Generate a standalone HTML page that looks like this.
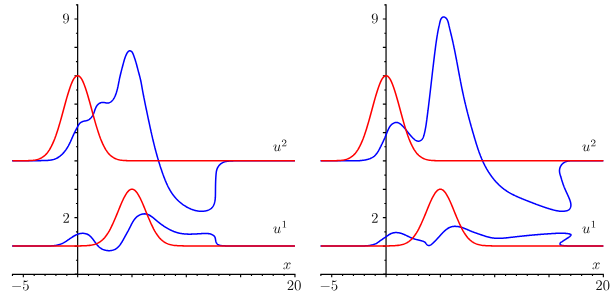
<!DOCTYPE html>
<html><head><meta charset="utf-8"><title>plot</title>
<style>
html,body{margin:0;padding:0;background:#fff;font-family:"Liberation Sans",sans-serif;overflow:hidden}
svg{display:block}
.ax{stroke:#000;stroke-width:1.22;fill:none}
.tk{stroke:#000;stroke-width:1.15;fill:none}
.b{stroke:#0000ff;stroke-width:1.52;fill:none;stroke-linejoin:round}
.r{stroke:#ff0000;stroke-width:1.52;fill:none;stroke-linejoin:round}
.g{fill:#111;stroke:none}
</style></head><body>
<svg width="615" height="295" viewBox="0 0 615 295">
<rect width="615" height="295" fill="#fff"/>
<defs>
<path id="r10_nine" d="M367 -318V-286C367 -52 263 -6 205 -6C188 -6 134 -8 107 -42C151 -42 159 -71 159 -88C159 -119 135 -134 113 -134C97 -134 67 -125 67 -86C67 -19 121 22 206 22C335 22 457 -114 457 -329C457 -598 342 -666 253 -666C198 -666 149 -648 106 -603C65 -558 42 -516 42 -441C42 -316 130 -218 242 -218C303 -218 344 -260 367 -318ZM243 -241C227 -241 181 -241 150 -304C132 -341 132 -391 132 -440C132 -494 132 -541 153 -578C180 -628 218 -641 253 -641C299 -641 332 -607 349 -562C361 -530 365 -467 365 -421C365 -338 331 -241 243 -241Z"/>
<path id="r10_two" d="M127 -77 233 -180C389 -318 449 -372 449 -472C449 -586 359 -666 237 -666C124 -666 50 -574 50 -485C50 -429 100 -429 103 -429C120 -429 155 -441 155 -482C155 -508 137 -534 102 -534C94 -534 92 -534 89 -533C112 -598 166 -635 224 -635C315 -635 358 -554 358 -472C358 -392 308 -313 253 -251L61 -37C50 -26 50 -24 50 0H421L449 -174H424C419 -144 412 -100 402 -85C395 -77 329 -77 307 -77Z"/>
<path id="r10_five" d="M449 -201C449 -320 367 -420 259 -420C211 -420 168 -404 132 -369V-564C152 -558 185 -551 217 -551C340 -551 410 -642 410 -655C410 -661 407 -666 400 -666C399 -666 397 -666 392 -663C372 -654 323 -634 256 -634C216 -634 170 -641 123 -662C115 -665 113 -665 111 -665C101 -665 101 -657 101 -641V-345C101 -327 101 -319 115 -319C122 -319 124 -322 128 -328C139 -344 176 -398 257 -398C309 -398 334 -352 342 -334C358 -297 360 -258 360 -208C360 -173 360 -113 336 -71C312 -32 275 -6 229 -6C156 -6 99 -59 82 -118C85 -117 88 -116 99 -116C132 -116 149 -141 149 -165C149 -189 132 -214 99 -214C85 -214 50 -207 50 -161C50 -75 119 22 231 22C347 22 449 -74 449 -201Z"/>
<path id="r10_zero" d="M460 -320C460 -400 455 -480 420 -554C374 -650 292 -666 250 -666C190 -666 117 -640 76 -547C44 -478 39 -400 39 -320C39 -245 43 -155 84 -79C127 2 200 22 249 22C303 22 379 1 423 -94C455 -163 460 -241 460 -320ZM249 0C210 0 151 -25 133 -121C122 -181 122 -273 122 -332C122 -396 122 -462 130 -516C149 -635 224 -644 249 -644C282 -644 348 -626 367 -527C377 -471 377 -395 377 -332C377 -257 377 -189 366 -125C351 -30 294 0 249 0Z"/>
<path id="r7_one" d="M335 -636C335 -663 333 -664 305 -664C241 -601 150 -600 109 -600V-564C133 -564 199 -564 254 -592V-82C254 -49 254 -36 154 -36H116V0C134 -1 257 -4 294 -4C325 -4 451 -1 473 0V-36H435C335 -36 335 -49 335 -82Z"/>
<path id="r7_two" d="M505 -182H471C468 -160 458 -101 445 -91C437 -85 360 -85 346 -85H162C267 -178 302 -206 362 -253C436 -312 505 -374 505 -469C505 -590 399 -664 271 -664C147 -664 63 -577 63 -485C63 -434 106 -429 116 -429C140 -429 169 -446 169 -482C169 -500 162 -535 110 -535C141 -606 209 -628 256 -628C356 -628 408 -550 408 -469C408 -382 346 -313 314 -277L73 -39C63 -30 63 -28 63 0H475Z"/>
<path id="mi10_u" d="M350 -56C361 -15 396 11 439 11C474 11 497 -12 513 -44C530 -80 543 -141 543 -143C543 -153 534 -153 531 -153C521 -153 520 -149 517 -135C503 -79 484 -11 442 -11C421 -11 411 -24 411 -57C411 -79 423 -126 431 -161L459 -269C462 -284 472 -322 476 -337C481 -360 491 -398 491 -404C491 -422 477 -431 462 -431C457 -431 431 -430 423 -396C404 -323 360 -148 348 -95C347 -91 307 -11 234 -11C182 -11 172 -56 172 -93C172 -149 200 -228 226 -297C238 -327 243 -341 243 -360C243 -405 211 -442 161 -442C66 -442 29 -297 29 -288C29 -278 39 -278 41 -278C51 -278 52 -280 57 -296C82 -383 120 -420 158 -420C167 -420 183 -419 183 -387C183 -363 172 -334 166 -319C129 -220 108 -158 108 -109C108 -14 177 11 231 11C297 11 333 -34 350 -56Z"/>
<path id="mi10_x" d="M334 -302C340 -328 363 -420 433 -420C438 -420 462 -420 483 -407C455 -402 435 -377 435 -353C435 -337 446 -318 473 -318C495 -318 527 -336 527 -376C527 -428 468 -442 434 -442C376 -442 341 -389 329 -366C304 -432 250 -442 221 -442C117 -442 60 -313 60 -288C60 -278 70 -278 72 -278C80 -278 83 -280 85 -289C119 -395 185 -420 219 -420C238 -420 273 -411 273 -353C273 -322 256 -255 219 -115C203 -53 168 -11 124 -11C118 -11 95 -11 74 -24C99 -29 121 -50 121 -78C121 -105 99 -113 84 -113C54 -113 29 -87 29 -55C29 -9 79 11 123 11C189 11 225 -59 228 -65C240 -28 276 11 336 11C439 11 496 -118 496 -143C496 -153 487 -153 484 -153C475 -153 473 -149 471 -142C438 -35 370 -11 338 -11C299 -11 283 -43 283 -77C283 -99 289 -121 300 -165Z"/>
<path id="sy10_minus" d="M659 -230C676 -230 694 -230 694 -250C694 -270 676 -270 659 -270H118C101 -270 83 -270 83 -250C83 -230 101 -230 118 -230Z"/>
</defs>
<path d="M77.65 4.34 V274.45" class="ax"/>
<path d="M11.96 274.45 H295.45" class="ax" style="stroke-width:1.2"/>
<path d="M77.65 273.80 h-2.9" class="tk" style="stroke-width:0.6"/>
<path d="M12.46 274.45 v1.55 M23.33 274.45 v2.90 M34.19 274.45 v1.55 M45.06 274.45 v1.55 M55.92 274.45 v1.55 M66.79 274.45 v1.55 M77.65 274.45 v2.90 M88.52 274.45 v1.55 M99.38 274.45 v1.55 M110.25 274.45 v1.55 M121.11 274.45 v1.55 M131.98 274.45 v2.90 M142.84 274.45 v1.55 M153.71 274.45 v1.55 M164.57 274.45 v1.55 M175.44 274.45 v1.55 M186.30 274.45 v2.90 M197.17 274.45 v1.55 M208.03 274.45 v1.55 M218.90 274.45 v1.55 M229.76 274.45 v1.55 M240.62 274.45 v2.90 M251.49 274.45 v1.55 M262.36 274.45 v1.55 M273.22 274.45 v1.55 M284.09 274.45 v1.55 M294.95 274.45 v2.90 M77.65 260.26 h-1.70 M77.65 246.07 h-3.20 M77.65 231.88 h-1.70 M77.65 217.69 h-3.20 M77.65 203.50 h-1.70 M77.65 189.31 h-3.20 M77.65 175.12 h-1.70 M77.65 160.93 h-3.20 M77.65 146.74 h-1.70 M77.65 132.55 h-3.20 M77.65 118.36 h-1.70 M77.65 104.17 h-3.20 M77.65 89.98 h-1.70 M77.65 75.79 h-3.20 M77.65 61.60 h-1.70 M77.65 47.41 h-3.20 M77.65 33.22 h-1.70 M77.65 19.03 h-3.20 M77.65 4.84 h-1.70" class="tk"/>
<path d="M386.05 4.34 V274.45" class="ax"/>
<path d="M320.36 274.45 H603.85" class="ax" style="stroke-width:1.2"/>
<path d="M386.05 273.80 h-2.9" class="tk" style="stroke-width:0.6"/>
<path d="M320.86 274.45 v1.55 M331.72 274.45 v2.90 M342.59 274.45 v1.55 M353.45 274.45 v1.55 M364.32 274.45 v1.55 M375.19 274.45 v1.55 M386.05 274.45 v2.90 M396.91 274.45 v1.55 M407.78 274.45 v1.55 M418.64 274.45 v1.55 M429.51 274.45 v1.55 M440.38 274.45 v2.90 M451.24 274.45 v1.55 M462.11 274.45 v1.55 M472.97 274.45 v1.55 M483.83 274.45 v1.55 M494.70 274.45 v2.90 M505.56 274.45 v1.55 M516.43 274.45 v1.55 M527.29 274.45 v1.55 M538.16 274.45 v1.55 M549.02 274.45 v2.90 M559.89 274.45 v1.55 M570.75 274.45 v1.55 M581.62 274.45 v1.55 M592.49 274.45 v1.55 M603.35 274.45 v2.90 M386.05 260.26 h-1.70 M386.05 246.07 h-3.20 M386.05 231.88 h-1.70 M386.05 217.69 h-3.20 M386.05 203.50 h-1.70 M386.05 189.31 h-3.20 M386.05 175.12 h-1.70 M386.05 160.93 h-3.20 M386.05 146.74 h-1.70 M386.05 132.55 h-3.20 M386.05 118.36 h-1.70 M386.05 104.17 h-3.20 M386.05 89.98 h-1.70 M386.05 75.79 h-3.20 M386.05 61.60 h-1.70 M386.05 47.41 h-3.20 M386.05 33.22 h-1.70 M386.05 19.03 h-3.20 M386.05 4.84 h-1.70" class="tk"/>
<path class="b" d="M12.06 160.80 L25.00 160.80 L25.50 160.80 L26.00 160.80 L26.50 160.80 L27.00 160.80 L27.50 160.80 L28.00 160.80 L28.50 160.80 L29.00 160.80 L29.50 160.80 L30.00 160.80 L30.50 160.80 L31.00 160.80 L31.50 160.80 L32.00 160.80 L32.50 160.80 L33.00 160.80 L33.50 160.80 L34.00 160.80 L34.50 160.80 L35.00 160.79 L35.49 160.78 L35.99 160.77 L36.48 160.76 L36.98 160.75 L37.47 160.73 L37.97 160.72 L38.47 160.70 L38.96 160.68 L39.46 160.67 L39.96 160.65 L40.46 160.64 L40.96 160.62 L41.46 160.61 L41.96 160.59 L42.47 160.58 L42.97 160.57 L43.48 160.56 L43.99 160.55 L44.51 160.54 L45.02 160.52 L45.53 160.51 L46.04 160.49 L46.56 160.47 L47.07 160.45 L47.58 160.42 L48.09 160.38 L48.60 160.34 L49.11 160.30 L49.61 160.25 L50.12 160.19 L50.62 160.12 L51.11 160.04 L51.61 159.95 L52.10 159.85 L52.58 159.75 L53.06 159.63 L53.54 159.50 L54.01 159.35 L54.48 159.19 L54.94 159.02 L55.40 158.84 L55.85 158.64 L56.30 158.44 L56.74 158.22 L57.17 157.99 L57.60 157.75 L58.02 157.49 L58.44 157.23 L58.86 156.96 L59.26 156.67 L59.66 156.38 L60.06 156.08 L60.45 155.77 L60.84 155.45 L61.21 155.12 L61.59 154.79 L61.95 154.44 L62.31 154.09 L62.67 153.74 L63.02 153.37 L63.36 153.00 L63.70 152.62 L64.03 152.24 L64.36 151.85 L64.68 151.46 L64.99 151.06 L65.29 150.66 L65.60 150.25 L65.89 149.84 L66.18 149.43 L66.46 149.01 L66.73 148.59 L67.00 148.17 L67.27 147.74 L67.53 147.31 L67.78 146.88 L68.03 146.44 L68.28 146.01 L68.52 145.57 L68.75 145.13 L68.98 144.68 L69.21 144.24 L69.44 143.79 L69.66 143.34 L69.88 142.89 L70.09 142.44 L70.31 141.99 L70.52 141.53 L70.73 141.08 L70.94 140.62 L71.14 140.17 L71.35 139.71 L71.55 139.25 L71.75 138.79 L71.95 138.34 L72.16 137.88 L72.36 137.42 L72.56 136.96 L72.76 136.50 L72.96 136.05 L73.17 135.59 L73.37 135.13 L73.58 134.68 L73.78 134.23 L73.99 133.77 L74.20 133.32 L74.42 132.87 L74.63 132.42 L74.85 131.98 L75.07 131.53 L75.29 131.09 L75.52 130.65 L75.75 130.20 L75.98 129.76 L76.21 129.32 L76.45 128.88 L76.68 128.44 L76.92 128.00 L77.16 127.56 L77.40 127.11 L77.63 126.66 L77.87 126.21 L78.11 125.76 L78.36 125.32 L78.62 124.88 L78.89 124.46 L79.18 124.05 L79.49 123.66 L79.82 123.30 L80.18 122.96 L80.57 122.66 L80.97 122.37 L81.40 122.12 L81.85 121.89 L82.31 121.69 L82.78 121.51 L83.27 121.36 L83.76 121.22 L84.26 121.11 L84.76 121.01 L85.27 120.91 L85.77 120.81 L86.26 120.70 L86.74 120.57 L87.22 120.42 L87.68 120.25 L88.12 120.04 L88.56 119.81 L88.98 119.56 L89.38 119.28 L89.78 118.98 L90.16 118.66 L90.52 118.33 L90.87 117.97 L91.21 117.60 L91.53 117.21 L91.83 116.80 L92.13 116.39 L92.41 115.96 L92.67 115.52 L92.92 115.07 L93.15 114.61 L93.37 114.15 L93.57 113.68 L93.77 113.21 L93.95 112.73 L94.13 112.25 L94.30 111.77 L94.46 111.28 L94.62 110.80 L94.79 110.32 L94.95 109.85 L95.12 109.37 L95.29 108.90 L95.47 108.44 L95.66 107.98 L95.86 107.54 L96.08 107.10 L96.31 106.67 L96.55 106.25 L96.81 105.85 L97.10 105.46 L97.40 105.08 L97.73 104.72 L98.09 104.37 L98.47 104.04 L98.88 103.74 L99.31 103.45 L99.76 103.20 L100.22 102.97 L100.69 102.78 L101.17 102.62 L101.66 102.51 L102.15 102.43 L102.64 102.40 L103.14 102.41 L103.63 102.46 L104.12 102.53 L104.62 102.62 L105.11 102.72 L105.61 102.82 L106.11 102.91 L106.62 102.98 L107.13 103.03 L107.63 103.03 L108.13 103.00 L108.62 102.92 L109.09 102.79 L109.55 102.62 L109.99 102.41 L110.42 102.16 L110.83 101.89 L111.23 101.58 L111.61 101.25 L111.97 100.90 L112.32 100.53 L112.65 100.15 L112.96 99.76 L113.26 99.36 L113.54 98.95 L113.81 98.52 L114.07 98.09 L114.32 97.65 L114.55 97.21 L114.77 96.75 L114.99 96.30 L115.19 95.84 L115.38 95.37 L115.57 94.90 L115.75 94.43 L115.92 93.96 L116.09 93.49 L116.25 93.02 L116.40 92.54 L116.55 92.07 L116.70 91.59 L116.83 91.11 L116.97 90.63 L117.10 90.15 L117.22 89.67 L117.34 89.19 L117.46 88.71 L117.57 88.22 L117.68 87.74 L117.79 87.25 L117.90 86.77 L118.00 86.28 L118.10 85.79 L118.20 85.31 L118.30 84.82 L118.40 84.33 L118.49 83.84 L118.59 83.35 L118.68 82.86 L118.78 82.37 L118.87 81.88 L118.97 81.39 L119.07 80.90 L119.16 80.40 L119.26 79.91 L119.37 79.42 L119.47 78.93 L119.57 78.44 L119.68 77.95 L119.79 77.46 L119.90 76.96 L120.01 76.47 L120.12 75.98 L120.24 75.49 L120.35 75.00 L120.47 74.51 L120.59 74.02 L120.71 73.53 L120.83 73.04 L120.95 72.55 L121.07 72.06 L121.19 71.58 L121.32 71.09 L121.44 70.60 L121.57 70.11 L121.69 69.63 L121.82 69.14 L121.95 68.66 L122.08 68.17 L122.20 67.69 L122.33 67.21 L122.46 66.72 L122.59 66.24 L122.72 65.76 L122.85 65.28 L122.98 64.80 L123.11 64.32 L123.24 63.85 L123.37 63.37 L123.49 62.90 L123.62 62.42 L123.75 61.95 L123.88 61.48 L124.01 61.01 L124.14 60.53 L124.28 60.06 L124.42 59.59 L124.56 59.12 L124.71 58.65 L124.86 58.18 L125.02 57.71 L125.19 57.24 L125.37 56.77 L125.56 56.29 L125.75 55.82 L125.96 55.34 L126.18 54.86 L126.41 54.39 L126.65 53.90 L126.91 53.42 L127.18 52.95 L127.47 52.50 L127.77 52.09 L128.10 51.71 L128.44 51.38 L128.80 51.12 L129.18 50.92 L129.58 50.81 L130.00 50.80 L130.44 50.88 L130.88 51.04 L131.30 51.29 L131.68 51.60 L132.01 51.97 L132.31 52.39 L132.57 52.85 L132.81 53.34 L133.02 53.84 L133.22 54.34 L133.41 54.84 L133.60 55.34 L133.78 55.82 L133.95 56.30 L134.12 56.77 L134.29 57.23 L134.46 57.70 L134.62 58.16 L134.77 58.62 L134.93 59.08 L135.08 59.55 L135.23 60.02 L135.38 60.49 L135.52 60.96 L135.67 61.43 L135.81 61.90 L135.95 62.38 L136.08 62.86 L136.22 63.34 L136.35 63.82 L136.49 64.30 L136.62 64.78 L136.75 65.27 L136.88 65.75 L137.01 66.24 L137.14 66.72 L137.27 67.21 L137.40 67.69 L137.52 68.18 L137.65 68.67 L137.78 69.15 L137.91 69.64 L138.04 70.13 L138.16 70.61 L138.29 71.10 L138.42 71.58 L138.55 72.07 L138.68 72.55 L138.82 73.03 L138.95 73.51 L139.08 74.00 L139.21 74.48 L139.34 74.96 L139.47 75.44 L139.60 75.92 L139.73 76.41 L139.85 76.89 L139.97 77.37 L140.10 77.85 L140.21 78.34 L140.33 78.82 L140.44 79.31 L140.55 79.79 L140.66 80.28 L140.77 80.77 L140.87 81.26 L140.97 81.75 L141.06 82.23 L141.16 82.72 L141.25 83.22 L141.34 83.71 L141.43 84.20 L141.52 84.69 L141.61 85.18 L141.70 85.67 L141.78 86.17 L141.87 86.66 L141.96 87.15 L142.04 87.64 L142.13 88.14 L142.22 88.63 L142.31 89.12 L142.40 89.61 L142.49 90.11 L142.58 90.60 L142.67 91.09 L142.76 91.58 L142.86 92.07 L142.95 92.56 L143.04 93.06 L143.13 93.55 L143.23 94.04 L143.32 94.53 L143.42 95.02 L143.51 95.51 L143.61 96.00 L143.70 96.49 L143.80 96.98 L143.89 97.48 L143.99 97.97 L144.09 98.46 L144.18 98.95 L144.28 99.44 L144.38 99.93 L144.48 100.42 L144.58 100.91 L144.68 101.40 L144.77 101.89 L144.87 102.38 L144.97 102.87 L145.07 103.36 L145.17 103.85 L145.27 104.34 L145.37 104.83 L145.47 105.32 L145.58 105.81 L145.68 106.30 L145.78 106.79 L145.88 107.28 L145.98 107.77 L146.08 108.26 L146.18 108.75 L146.29 109.24 L146.39 109.73 L146.49 110.22 L146.59 110.71 L146.70 111.20 L146.80 111.69 L146.90 112.18 L147.00 112.67 L147.11 113.16 L147.21 113.65 L147.31 114.13 L147.41 114.62 L147.52 115.11 L147.62 115.60 L147.72 116.09 L147.83 116.58 L147.93 117.07 L148.03 117.56 L148.14 118.05 L148.24 118.54 L148.34 119.03 L148.45 119.52 L148.55 120.01 L148.65 120.50 L148.76 120.99 L148.86 121.47 L148.97 121.96 L149.07 122.45 L149.17 122.94 L149.28 123.43 L149.38 123.92 L149.49 124.41 L149.59 124.90 L149.70 125.39 L149.81 125.87 L149.91 126.36 L150.02 126.85 L150.12 127.34 L150.23 127.83 L150.34 128.32 L150.44 128.80 L150.55 129.29 L150.66 129.78 L150.77 130.27 L150.88 130.76 L150.98 131.25 L151.09 131.73 L151.20 132.22 L151.31 132.71 L151.42 133.20 L151.53 133.68 L151.64 134.17 L151.75 134.66 L151.87 135.14 L151.98 135.63 L152.09 136.12 L152.20 136.61 L152.31 137.09 L152.43 137.58 L152.54 138.07 L152.66 138.55 L152.77 139.04 L152.89 139.52 L153.00 140.01 L153.12 140.50 L153.23 140.98 L153.35 141.47 L153.47 141.95 L153.59 142.44 L153.70 142.92 L153.82 143.41 L153.94 143.89 L154.06 144.38 L154.18 144.86 L154.30 145.35 L154.43 145.83 L154.55 146.32 L154.67 146.80 L154.79 147.29 L154.92 147.77 L155.04 148.25 L155.17 148.74 L155.29 149.22 L155.42 149.70 L155.55 150.19 L155.67 150.67 L155.80 151.15 L155.93 151.64 L156.06 152.12 L156.19 152.60 L156.32 153.08 L156.45 153.56 L156.59 154.05 L156.72 154.53 L156.85 155.01 L156.99 155.49 L157.12 155.97 L157.26 156.45 L157.39 156.93 L157.53 157.41 L157.67 157.89 L157.81 158.37 L157.95 158.85 L158.09 159.33 L158.23 159.81 L158.37 160.29 L158.52 160.77 L158.66 161.25 L158.80 161.73 L158.95 162.21 L159.10 162.68 L159.24 163.16 L159.39 163.64 L159.54 164.12 L159.69 164.60 L159.84 165.07 L159.99 165.55 L160.14 166.03 L160.30 166.50 L160.45 166.98 L160.61 167.45 L160.76 167.93 L160.92 168.41 L161.08 168.88 L161.24 169.36 L161.40 169.83 L161.56 170.30 L161.72 170.78 L161.88 171.25 L162.05 171.73 L162.21 172.20 L162.38 172.67 L162.55 173.15 L162.71 173.62 L162.88 174.09 L163.05 174.56 L163.22 175.04 L163.40 175.51 L163.57 175.98 L163.74 176.45 L163.92 176.92 L164.10 177.39 L164.28 177.86 L164.46 178.33 L164.64 178.80 L164.82 179.26 L165.01 179.73 L165.19 180.20 L165.38 180.66 L165.57 181.12 L165.77 181.59 L165.96 182.05 L166.16 182.51 L166.36 182.97 L166.56 183.43 L166.77 183.88 L166.98 184.34 L167.19 184.79 L167.40 185.25 L167.62 185.70 L167.83 186.14 L168.06 186.59 L168.28 187.04 L168.51 187.48 L168.74 187.92 L168.98 188.36 L169.21 188.80 L169.45 189.24 L169.70 189.67 L169.95 190.10 L170.20 190.53 L170.46 190.96 L170.72 191.38 L170.98 191.80 L171.25 192.22 L171.52 192.64 L171.80 193.06 L172.08 193.47 L172.36 193.88 L172.65 194.28 L172.95 194.69 L173.25 195.09 L173.55 195.48 L173.86 195.88 L174.17 196.27 L174.49 196.66 L174.81 197.04 L175.13 197.42 L175.46 197.80 L175.80 198.17 L176.13 198.54 L176.48 198.91 L176.82 199.28 L177.17 199.64 L177.53 199.99 L177.88 200.34 L178.25 200.69 L178.61 201.04 L178.98 201.38 L179.36 201.71 L179.73 202.04 L180.11 202.37 L180.50 202.69 L180.89 203.01 L181.28 203.33 L181.67 203.64 L182.07 203.94 L182.48 204.24 L182.88 204.54 L183.29 204.83 L183.70 205.12 L184.12 205.40 L184.54 205.67 L184.96 205.94 L185.39 206.21 L185.82 206.47 L186.25 206.73 L186.69 206.98 L187.12 207.22 L187.56 207.46 L188.01 207.69 L188.46 207.92 L188.91 208.14 L189.36 208.36 L189.81 208.57 L190.27 208.77 L190.73 208.97 L191.20 209.16 L191.66 209.34 L192.13 209.51 L192.60 209.68 L193.08 209.84 L193.55 210.00 L194.03 210.14 L194.51 210.28 L194.99 210.41 L195.48 210.53 L195.96 210.64 L196.45 210.75 L196.94 210.84 L197.43 210.93 L197.93 211.00 L198.42 211.07 L198.92 211.13 L199.42 211.18 L199.92 211.22 L200.42 211.24 L200.93 211.26 L201.43 211.27 L201.94 211.27 L202.45 211.25 L202.96 211.23 L203.47 211.19 L203.98 211.15 L204.49 211.09 L204.99 211.01 L205.49 210.93 L205.99 210.83 L206.48 210.71 L206.97 210.58 L207.45 210.43 L207.92 210.27 L208.39 210.09 L208.84 209.90 L209.28 209.68 L209.71 209.45 L210.13 209.20 L210.53 208.93 L210.92 208.64 L211.29 208.33 L211.65 208.00 L211.99 207.64 L212.31 207.27 L212.61 206.87 L212.90 206.45 L213.16 206.02 L213.41 205.57 L213.64 205.11 L213.85 204.64 L214.05 204.15 L214.23 203.66 L214.40 203.16 L214.55 202.66 L214.68 202.16 L214.80 201.66 L214.91 201.16 L215.00 200.66 L215.08 200.16 L215.15 199.66 L215.21 199.16 L215.26 198.67 L215.30 198.17 L215.34 197.68 L215.36 197.18 L215.38 196.68 L215.40 196.19 L215.41 195.70 L215.42 195.20 L215.43 194.71 L215.44 194.21 L215.44 193.71 L215.45 193.22 L215.45 192.72 L215.46 192.23 L215.46 191.73 L215.47 191.23 L215.47 190.73 L215.48 190.24 L215.48 189.74 L215.49 189.24 L215.49 188.74 L215.50 188.24 L215.50 187.74 L215.51 187.24 L215.52 186.74 L215.52 186.24 L215.53 185.74 L215.54 185.24 L215.55 184.74 L215.56 184.24 L215.57 183.74 L215.59 183.24 L215.60 182.74 L215.62 182.24 L215.63 181.74 L215.65 181.24 L215.67 180.74 L215.69 180.23 L215.71 179.73 L215.73 179.23 L215.76 178.73 L215.78 178.23 L215.81 177.73 L215.84 177.22 L215.87 176.72 L215.91 176.22 L215.94 175.72 L215.98 175.22 L216.02 174.72 L216.07 174.21 L216.11 173.71 L216.17 173.21 L216.23 172.72 L216.29 172.22 L216.37 171.72 L216.46 171.23 L216.56 170.74 L216.68 170.26 L216.81 169.78 L216.96 169.30 L217.13 168.83 L217.32 168.37 L217.53 167.91 L217.76 167.45 L218.01 167.01 L218.28 166.57 L218.58 166.15 L218.89 165.74 L219.22 165.34 L219.56 164.95 L219.92 164.59 L220.29 164.24 L220.68 163.91 L221.07 163.61 L221.48 163.33 L221.89 163.06 L222.32 162.82 L222.75 162.60 L223.19 162.40 L223.64 162.21 L224.10 162.04 L224.57 161.89 L225.04 161.75 L225.51 161.63 L226.00 161.52 L226.48 161.42 L226.97 161.33 L227.47 161.25 L227.97 161.19 L228.47 161.13 L228.97 161.08 L229.48 161.04 L229.99 161.00 L230.49 160.97 L231.00 160.95 L231.51 160.93 L232.02 160.91 L232.52 160.89 L233.03 160.87 L233.54 160.86 L234.04 160.85 L234.54 160.84 L235.05 160.83 L235.55 160.82 L236.05 160.81 L236.55 160.81 L237.05 160.80 L237.55 160.80 L238.05 160.80 L238.55 160.80 L239.05 160.80 L239.54 160.80 L240.04 160.80 L240.54 160.80 L241.04 160.80 L241.54 160.80 L242.04 160.80 L242.54 160.80 L243.03 160.80 L243.53 160.80 L244.03 160.80 L244.53 160.81 L245.03 160.81 L245.54 160.80 L246.04 160.80 L246.54 160.80 L247.00 160.80 L294.95 160.80"/>
<path class="b" d="M12.06 245.95 L39.01 245.96 L39.50 245.95 L39.99 245.94 L40.49 245.93 L40.98 245.93 L41.48 245.93 L41.98 245.93 L42.48 245.93 L42.98 245.93 L43.48 245.94 L43.98 245.94 L44.49 245.95 L44.99 245.95 L45.50 245.96 L46.00 245.96 L46.50 245.96 L47.01 245.97 L47.52 245.97 L48.02 245.96 L48.53 245.96 L49.03 245.95 L49.53 245.94 L50.04 245.93 L50.54 245.91 L51.04 245.89 L51.54 245.86 L52.04 245.83 L52.54 245.80 L53.04 245.76 L53.54 245.71 L54.03 245.66 L54.52 245.60 L55.01 245.53 L55.50 245.46 L55.99 245.38 L56.48 245.29 L56.96 245.20 L57.44 245.09 L57.92 244.98 L58.39 244.86 L58.86 244.73 L59.33 244.59 L59.80 244.44 L60.27 244.28 L60.73 244.11 L61.18 243.92 L61.64 243.73 L62.09 243.53 L62.53 243.31 L62.98 243.09 L63.42 242.85 L63.86 242.61 L64.29 242.36 L64.73 242.11 L65.16 241.85 L65.59 241.58 L66.02 241.30 L66.45 241.03 L66.87 240.74 L67.30 240.46 L67.72 240.17 L68.14 239.88 L68.57 239.59 L68.99 239.30 L69.41 239.01 L69.83 238.71 L70.25 238.42 L70.68 238.14 L71.10 237.85 L71.52 237.57 L71.95 237.29 L72.37 237.01 L72.80 236.74 L73.23 236.48 L73.66 236.22 L74.09 235.97 L74.53 235.72 L74.96 235.49 L75.40 235.26 L75.84 235.04 L76.29 234.84 L76.74 234.64 L77.19 234.45 L77.64 234.28 L78.10 234.12 L78.56 233.97 L79.02 233.84 L79.49 233.72 L79.97 233.61 L80.44 233.52 L80.93 233.45 L81.41 233.39 L81.91 233.36 L82.40 233.34 L82.91 233.33 L83.41 233.35 L83.92 233.39 L84.43 233.45 L84.94 233.53 L85.44 233.63 L85.93 233.75 L86.42 233.90 L86.90 234.07 L87.37 234.26 L87.82 234.47 L88.26 234.71 L88.68 234.97 L89.09 235.25 L89.48 235.55 L89.86 235.87 L90.24 236.20 L90.60 236.54 L90.95 236.90 L91.29 237.27 L91.63 237.65 L91.96 238.03 L92.28 238.42 L92.60 238.82 L92.91 239.22 L93.22 239.63 L93.52 240.03 L93.82 240.44 L94.12 240.86 L94.42 241.27 L94.72 241.68 L95.02 242.09 L95.32 242.50 L95.62 242.91 L95.92 243.32 L96.22 243.72 L96.53 244.12 L96.84 244.51 L97.16 244.89 L97.48 245.27 L97.81 245.64 L98.15 246.00 L98.49 246.36 L98.84 246.70 L99.20 247.03 L99.57 247.35 L99.95 247.66 L100.35 247.96 L100.75 248.24 L101.16 248.51 L101.59 248.76 L102.03 249.00 L102.48 249.22 L102.94 249.43 L103.41 249.62 L103.89 249.80 L104.37 249.96 L104.86 250.10 L105.36 250.23 L105.86 250.34 L106.37 250.43 L106.87 250.51 L107.38 250.58 L107.90 250.62 L108.41 250.65 L108.92 250.66 L109.43 250.66 L109.94 250.64 L110.45 250.60 L110.95 250.54 L111.45 250.47 L111.94 250.38 L112.43 250.27 L112.91 250.14 L113.38 250.00 L113.85 249.84 L114.30 249.66 L114.74 249.46 L115.17 249.24 L115.59 249.00 L116.00 248.75 L116.40 248.48 L116.79 248.20 L117.17 247.90 L117.54 247.58 L117.90 247.26 L118.25 246.91 L118.59 246.56 L118.93 246.20 L119.25 245.82 L119.57 245.44 L119.89 245.04 L120.19 244.64 L120.49 244.22 L120.78 243.81 L121.07 243.38 L121.35 242.95 L121.63 242.51 L121.90 242.07 L122.17 241.62 L122.43 241.18 L122.69 240.72 L122.95 240.27 L123.20 239.82 L123.45 239.36 L123.70 238.91 L123.95 238.46 L124.19 238.01 L124.44 237.56 L124.68 237.12 L124.92 236.67 L125.16 236.24 L125.40 235.80 L125.64 235.37 L125.88 234.94 L126.12 234.51 L126.36 234.09 L126.60 233.66 L126.83 233.24 L127.07 232.82 L127.31 232.39 L127.54 231.97 L127.77 231.54 L128.01 231.12 L128.24 230.69 L128.47 230.26 L128.70 229.83 L128.93 229.39 L129.16 228.95 L129.38 228.51 L129.61 228.06 L129.83 227.61 L130.06 227.16 L130.28 226.70 L130.51 226.24 L130.74 225.79 L130.97 225.33 L131.20 224.87 L131.43 224.41 L131.67 223.95 L131.91 223.50 L132.15 223.05 L132.40 222.60 L132.66 222.15 L132.92 221.71 L133.18 221.28 L133.45 220.85 L133.73 220.42 L134.02 220.01 L134.31 219.60 L134.62 219.20 L134.93 218.81 L135.25 218.43 L135.58 218.06 L135.92 217.70 L136.27 217.35 L136.63 217.02 L137.01 216.69 L137.39 216.38 L137.79 216.09 L138.20 215.81 L138.63 215.54 L139.07 215.29 L139.52 215.06 L139.99 214.85 L140.48 214.65 L140.97 214.47 L141.47 214.31 L141.98 214.18 L142.49 214.07 L143.01 213.98 L143.51 213.91 L144.02 213.88 L144.51 213.86 L145.00 213.88 L145.48 213.92 L145.95 213.98 L146.42 214.07 L146.87 214.18 L147.32 214.31 L147.77 214.46 L148.21 214.63 L148.64 214.82 L149.07 215.03 L149.50 215.25 L149.92 215.48 L150.33 215.73 L150.75 215.99 L151.15 216.27 L151.56 216.55 L151.96 216.85 L152.36 217.15 L152.76 217.46 L153.16 217.78 L153.56 218.10 L153.95 218.43 L154.35 218.76 L154.74 219.10 L155.13 219.43 L155.53 219.77 L155.92 220.10 L156.32 220.44 L156.72 220.77 L157.11 221.10 L157.51 221.43 L157.91 221.75 L158.32 222.08 L158.72 222.40 L159.12 222.71 L159.53 223.03 L159.94 223.34 L160.34 223.65 L160.75 223.96 L161.17 224.26 L161.58 224.56 L161.99 224.86 L162.41 225.16 L162.82 225.45 L163.24 225.74 L163.66 226.02 L164.08 226.30 L164.50 226.58 L164.92 226.85 L165.35 227.12 L165.78 227.39 L166.20 227.65 L166.63 227.91 L167.06 228.16 L167.49 228.41 L167.93 228.66 L168.36 228.90 L168.80 229.14 L169.24 229.37 L169.68 229.60 L170.12 229.82 L170.56 230.04 L171.00 230.25 L171.45 230.46 L171.90 230.66 L172.34 230.86 L172.79 231.05 L173.25 231.24 L173.70 231.42 L174.15 231.60 L174.61 231.77 L175.07 231.93 L175.53 232.09 L175.99 232.25 L176.45 232.40 L176.92 232.54 L177.39 232.67 L177.86 232.80 L178.33 232.93 L178.80 233.05 L179.27 233.16 L179.75 233.26 L180.22 233.36 L180.70 233.45 L181.18 233.54 L181.67 233.62 L182.15 233.69 L182.64 233.75 L183.12 233.81 L183.61 233.87 L184.10 233.92 L184.59 233.96 L185.09 234.00 L185.58 234.03 L186.08 234.06 L186.57 234.09 L187.07 234.11 L187.57 234.12 L188.07 234.13 L188.58 234.14 L189.08 234.15 L189.58 234.15 L190.09 234.14 L190.59 234.14 L191.10 234.13 L191.61 234.12 L192.12 234.10 L192.62 234.09 L193.13 234.07 L193.64 234.05 L194.16 234.03 L194.67 234.00 L195.18 233.98 L195.69 233.95 L196.20 233.92 L196.72 233.89 L197.23 233.87 L197.75 233.84 L198.26 233.81 L198.77 233.78 L199.29 233.75 L199.80 233.72 L200.32 233.69 L200.83 233.66 L201.35 233.63 L201.86 233.61 L202.38 233.58 L202.89 233.56 L203.41 233.54 L203.92 233.52 L204.43 233.50 L204.94 233.49 L205.45 233.48 L205.96 233.48 L206.46 233.49 L206.96 233.51 L207.46 233.54 L207.95 233.57 L208.44 233.62 L208.92 233.69 L209.39 233.77 L209.86 233.86 L210.32 233.97 L210.77 234.10 L211.22 234.25 L211.66 234.42 L212.08 234.61 L212.50 234.82 L212.91 235.06 L213.31 235.32 L213.68 235.61 L214.04 235.92 L214.36 236.27 L214.65 236.65 L214.88 237.06 L215.07 237.51 L215.22 237.99 L215.34 238.49 L215.44 239.01 L215.52 239.54 L215.61 240.07 L215.70 240.60 L215.81 241.13 L215.93 241.64 L216.09 242.12 L216.27 242.58 L216.49 243.01 L216.75 243.39 L217.04 243.74 L217.37 244.05 L217.73 244.33 L218.12 244.57 L218.54 244.79 L218.98 244.98 L219.44 245.15 L219.92 245.29 L220.41 245.41 L220.92 245.51 L221.44 245.60 L221.97 245.67 L222.50 245.72 L223.04 245.77 L223.58 245.81 L224.11 245.83 L224.64 245.86 L225.17 245.88 L225.68 245.89 L226.20 245.91 L226.70 245.92 L227.20 245.93 L227.70 245.94 L228.20 245.94 L228.69 245.95 L229.18 245.95 L229.67 245.95 L230.16 245.95 L230.65 245.95 L231.13 245.95 L231.62 245.95 L232.12 245.95 L232.61 245.95 L233.11 245.95 L233.60 245.95 L234.10 245.95 L234.60 245.95 L235.10 245.95 L235.61 245.95 L236.11 245.95 L236.61 245.95 L237.11 245.95 L237.62 245.95 L238.12 245.95 L238.62 245.95 L239.12 245.95 L239.62 245.95 L240.12 245.95 L240.62 245.95 L241.00 245.95 L294.95 245.95"/>
<path class="b" d="M320.46 160.80 L341.00 160.82 L341.50 160.80 L342.00 160.79 L342.50 160.78 L343.00 160.78 L343.50 160.77 L344.00 160.77 L344.50 160.77 L345.00 160.77 L345.50 160.77 L346.00 160.78 L346.50 160.78 L347.00 160.79 L347.50 160.79 L348.00 160.80 L348.50 160.81 L349.00 160.81 L349.50 160.82 L350.00 160.83 L350.50 160.84 L351.00 160.84 L351.50 160.85 L352.00 160.85 L352.51 160.86 L353.01 160.86 L353.51 160.86 L354.01 160.86 L354.51 160.85 L355.01 160.85 L355.51 160.84 L356.01 160.83 L356.51 160.82 L357.01 160.80 L357.51 160.78 L358.00 160.76 L358.50 160.73 L359.00 160.70 L359.50 160.67 L360.00 160.63 L360.50 160.59 L361.00 160.54 L361.49 160.49 L361.99 160.44 L362.49 160.37 L362.99 160.31 L363.48 160.24 L363.98 160.16 L364.48 160.08 L364.97 159.99 L365.47 159.89 L365.96 159.79 L366.45 159.68 L366.94 159.56 L367.43 159.44 L367.92 159.31 L368.40 159.16 L368.87 159.01 L369.34 158.85 L369.81 158.68 L370.27 158.50 L370.73 158.30 L371.17 158.10 L371.61 157.88 L372.04 157.65 L372.47 157.41 L372.88 157.16 L373.29 156.89 L373.68 156.60 L374.07 156.31 L374.44 156.00 L374.81 155.67 L375.16 155.33 L375.50 154.97 L375.83 154.61 L376.15 154.23 L376.47 153.84 L376.77 153.44 L377.07 153.03 L377.36 152.61 L377.64 152.19 L377.92 151.75 L378.18 151.31 L378.45 150.87 L378.70 150.42 L378.96 149.97 L379.20 149.51 L379.44 149.05 L379.68 148.59 L379.92 148.13 L380.15 147.67 L380.38 147.21 L380.61 146.75 L380.84 146.30 L381.06 145.84 L381.28 145.39 L381.50 144.94 L381.72 144.49 L381.94 144.04 L382.16 143.60 L382.37 143.15 L382.59 142.71 L382.80 142.26 L383.01 141.82 L383.22 141.38 L383.42 140.93 L383.63 140.49 L383.83 140.05 L384.03 139.60 L384.23 139.16 L384.43 138.71 L384.63 138.26 L384.82 137.81 L385.02 137.36 L385.21 136.90 L385.40 136.45 L385.59 135.99 L385.77 135.53 L385.96 135.06 L386.14 134.60 L386.33 134.13 L386.51 133.66 L386.70 133.19 L386.89 132.72 L387.08 132.25 L387.27 131.78 L387.47 131.32 L387.67 130.85 L387.87 130.38 L388.08 129.92 L388.29 129.46 L388.51 129.00 L388.73 128.55 L388.97 128.10 L389.21 127.66 L389.46 127.22 L389.72 126.79 L390.00 126.37 L390.29 125.97 L390.60 125.57 L390.93 125.19 L391.28 124.83 L391.65 124.48 L392.04 124.15 L392.45 123.85 L392.88 123.56 L393.32 123.31 L393.78 123.08 L394.25 122.88 L394.72 122.71 L395.20 122.59 L395.68 122.50 L396.16 122.45 L396.63 122.44 L397.10 122.48 L397.57 122.57 L398.03 122.70 L398.48 122.87 L398.92 123.07 L399.35 123.31 L399.78 123.58 L400.20 123.87 L400.61 124.18 L401.01 124.52 L401.41 124.86 L401.79 125.22 L402.17 125.59 L402.54 125.96 L402.90 126.33 L403.26 126.71 L403.61 127.08 L403.95 127.46 L404.28 127.83 L404.61 128.21 L404.93 128.59 L405.25 128.97 L405.56 129.35 L405.87 129.72 L406.18 130.10 L406.49 130.48 L406.79 130.86 L407.09 131.24 L407.40 131.63 L407.70 132.01 L408.00 132.39 L408.30 132.77 L408.61 133.15 L408.92 133.53 L409.23 133.91 L409.54 134.29 L409.86 134.67 L410.18 135.05 L410.50 135.43 L410.83 135.81 L411.17 136.19 L411.51 136.57 L411.86 136.95 L412.22 137.33 L412.59 137.70 L412.96 138.08 L413.35 138.45 L413.74 138.81 L414.14 139.17 L414.54 139.50 L414.96 139.82 L415.38 140.11 L415.80 140.38 L416.23 140.61 L416.67 140.81 L417.11 140.97 L417.56 141.09 L418.01 141.16 L418.46 141.18 L418.92 141.14 L419.38 141.05 L419.84 140.90 L420.30 140.69 L420.74 140.43 L421.17 140.14 L421.57 139.80 L421.95 139.43 L422.28 139.04 L422.58 138.63 L422.84 138.20 L423.08 137.75 L423.28 137.28 L423.47 136.81 L423.63 136.33 L423.79 135.84 L423.93 135.35 L424.06 134.86 L424.19 134.36 L424.32 133.87 L424.44 133.38 L424.56 132.89 L424.67 132.40 L424.78 131.90 L424.89 131.41 L425.00 130.92 L425.10 130.43 L425.19 129.94 L425.29 129.45 L425.38 128.96 L425.47 128.47 L425.56 127.98 L425.65 127.49 L425.73 127.00 L425.81 126.51 L425.89 126.02 L425.97 125.53 L426.04 125.03 L426.12 124.54 L426.19 124.05 L426.26 123.56 L426.33 123.07 L426.40 122.58 L426.47 122.09 L426.54 121.60 L426.60 121.11 L426.67 120.61 L426.74 120.12 L426.80 119.63 L426.87 119.14 L426.93 118.64 L427.00 118.15 L427.06 117.66 L427.13 117.16 L427.19 116.67 L427.26 116.17 L427.32 115.68 L427.39 115.18 L427.45 114.69 L427.51 114.19 L427.58 113.70 L427.64 113.20 L427.70 112.71 L427.77 112.21 L427.83 111.72 L427.89 111.22 L427.95 110.72 L428.02 110.23 L428.08 109.73 L428.14 109.23 L428.20 108.73 L428.26 108.24 L428.33 107.74 L428.39 107.24 L428.45 106.74 L428.51 106.25 L428.57 105.75 L428.63 105.25 L428.69 104.75 L428.75 104.25 L428.81 103.75 L428.87 103.25 L428.93 102.75 L428.99 102.26 L429.05 101.76 L429.11 101.26 L429.17 100.76 L429.23 100.26 L429.29 99.76 L429.35 99.26 L429.41 98.76 L429.47 98.26 L429.53 97.76 L429.59 97.26 L429.64 96.76 L429.70 96.26 L429.76 95.76 L429.82 95.26 L429.88 94.76 L429.94 94.26 L430.00 93.76 L430.05 93.26 L430.11 92.76 L430.17 92.25 L430.23 91.75 L430.29 91.25 L430.34 90.75 L430.40 90.25 L430.46 89.75 L430.52 89.25 L430.57 88.75 L430.63 88.25 L430.69 87.75 L430.75 87.25 L430.80 86.75 L430.86 86.25 L430.92 85.75 L430.98 85.25 L431.03 84.75 L431.09 84.24 L431.15 83.74 L431.21 83.24 L431.26 82.74 L431.32 82.24 L431.38 81.74 L431.43 81.24 L431.49 80.74 L431.55 80.24 L431.61 79.74 L431.66 79.24 L431.72 78.74 L431.78 78.24 L431.83 77.74 L431.89 77.24 L431.95 76.75 L432.01 76.25 L432.06 75.75 L432.12 75.25 L432.18 74.75 L432.23 74.25 L432.29 73.75 L432.35 73.25 L432.41 72.75 L432.46 72.26 L432.52 71.76 L432.58 71.26 L432.64 70.76 L432.69 70.27 L432.75 69.77 L432.81 69.27 L432.87 68.77 L432.93 68.28 L432.98 67.78 L433.04 67.28 L433.10 66.79 L433.16 66.29 L433.22 65.79 L433.27 65.30 L433.33 64.80 L433.39 64.31 L433.45 63.81 L433.51 63.32 L433.57 62.82 L433.63 62.33 L433.68 61.83 L433.74 61.34 L433.80 60.85 L433.86 60.35 L433.92 59.86 L433.98 59.37 L434.04 58.87 L434.10 58.38 L434.16 57.89 L434.22 57.40 L434.28 56.91 L434.34 56.41 L434.40 55.92 L434.46 55.43 L434.52 54.94 L434.58 54.45 L434.64 53.96 L434.70 53.47 L434.76 52.98 L434.82 52.49 L434.89 52.00 L434.95 51.52 L435.01 51.03 L435.07 50.54 L435.13 50.05 L435.20 49.57 L435.26 49.08 L435.32 48.59 L435.38 48.11 L435.45 47.62 L435.51 47.14 L435.57 46.65 L435.64 46.16 L435.70 45.68 L435.77 45.19 L435.83 44.71 L435.90 44.22 L435.97 43.74 L436.03 43.25 L436.10 42.76 L436.17 42.28 L436.24 41.79 L436.31 41.31 L436.38 40.82 L436.45 40.33 L436.53 39.84 L436.60 39.36 L436.68 38.87 L436.75 38.38 L436.83 37.89 L436.91 37.40 L436.98 36.91 L437.06 36.42 L437.15 35.93 L437.23 35.44 L437.31 34.94 L437.40 34.45 L437.48 33.95 L437.57 33.46 L437.66 32.96 L437.75 32.47 L437.84 31.97 L437.93 31.47 L438.03 30.97 L438.12 30.47 L438.22 29.97 L438.32 29.46 L438.42 28.96 L438.53 28.45 L438.63 27.95 L438.74 27.44 L438.84 26.93 L438.95 26.42 L439.07 25.91 L439.18 25.39 L439.30 24.88 L439.41 24.36 L439.53 23.85 L439.65 23.33 L439.78 22.81 L439.90 22.29 L440.03 21.76 L440.17 21.25 L440.31 20.74 L440.47 20.24 L440.65 19.76 L440.84 19.30 L441.06 18.87 L441.30 18.47 L441.57 18.11 L441.87 17.78 L442.20 17.49 L442.57 17.26 L442.96 17.09 L443.36 16.98 L443.78 16.95 L444.20 17.00 L444.61 17.13 L445.02 17.32 L445.41 17.57 L445.78 17.87 L446.13 18.21 L446.46 18.58 L446.75 18.98 L447.02 19.40 L447.26 19.83 L447.48 20.29 L447.68 20.76 L447.87 21.25 L448.03 21.74 L448.19 22.25 L448.33 22.77 L448.46 23.29 L448.58 23.81 L448.70 24.34 L448.82 24.86 L448.94 25.38 L449.05 25.90 L449.17 26.41 L449.29 26.92 L449.41 27.43 L449.53 27.93 L449.65 28.43 L449.76 28.93 L449.88 29.42 L450.00 29.91 L450.12 30.40 L450.24 30.89 L450.36 31.38 L450.48 31.86 L450.59 32.35 L450.71 32.83 L450.83 33.31 L450.95 33.79 L451.06 34.27 L451.18 34.75 L451.29 35.22 L451.41 35.70 L451.52 36.18 L451.64 36.66 L451.75 37.14 L451.86 37.62 L451.98 38.10 L452.09 38.58 L452.20 39.06 L452.31 39.54 L452.42 40.02 L452.53 40.50 L452.64 40.98 L452.74 41.46 L452.85 41.95 L452.96 42.43 L453.06 42.91 L453.17 43.39 L453.27 43.88 L453.38 44.36 L453.48 44.85 L453.59 45.33 L453.69 45.81 L453.79 46.30 L453.89 46.78 L453.99 47.27 L454.09 47.76 L454.20 48.24 L454.30 48.73 L454.40 49.21 L454.49 49.70 L454.59 50.19 L454.69 50.68 L454.79 51.16 L454.89 51.65 L454.99 52.14 L455.08 52.63 L455.18 53.12 L455.28 53.60 L455.37 54.09 L455.47 54.58 L455.56 55.07 L455.66 55.56 L455.75 56.05 L455.85 56.54 L455.94 57.03 L456.04 57.52 L456.13 58.01 L456.23 58.50 L456.32 58.99 L456.41 59.48 L456.51 59.97 L456.60 60.46 L456.69 60.95 L456.78 61.45 L456.88 61.94 L456.97 62.43 L457.06 62.92 L457.15 63.41 L457.25 63.90 L457.34 64.40 L457.43 64.89 L457.52 65.38 L457.61 65.87 L457.70 66.37 L457.80 66.86 L457.89 67.35 L457.98 67.84 L458.07 68.34 L458.16 68.83 L458.25 69.32 L458.35 69.81 L458.44 70.31 L458.53 70.80 L458.62 71.29 L458.71 71.79 L458.81 72.28 L458.90 72.77 L458.99 73.27 L459.08 73.76 L459.17 74.25 L459.27 74.75 L459.36 75.24 L459.45 75.73 L459.54 76.23 L459.64 76.72 L459.73 77.21 L459.82 77.71 L459.92 78.20 L460.01 78.69 L460.11 79.18 L460.20 79.68 L460.29 80.17 L460.39 80.66 L460.48 81.16 L460.58 81.65 L460.67 82.14 L460.77 82.64 L460.87 83.13 L460.96 83.62 L461.06 84.11 L461.16 84.61 L461.25 85.10 L461.35 85.59 L461.45 86.08 L461.55 86.57 L461.65 87.07 L461.75 87.56 L461.85 88.05 L461.95 88.54 L462.05 89.03 L462.15 89.52 L462.25 90.02 L462.35 90.51 L462.45 91.00 L462.56 91.49 L462.66 91.98 L462.76 92.47 L462.87 92.96 L462.97 93.45 L463.08 93.94 L463.19 94.43 L463.29 94.92 L463.40 95.41 L463.51 95.90 L463.61 96.39 L463.72 96.87 L463.83 97.36 L463.94 97.85 L464.05 98.34 L464.16 98.83 L464.27 99.32 L464.39 99.80 L464.50 100.29 L464.61 100.78 L464.72 101.27 L464.84 101.75 L464.95 102.24 L465.07 102.73 L465.18 103.21 L465.30 103.70 L465.41 104.19 L465.53 104.67 L465.65 105.16 L465.77 105.65 L465.88 106.13 L466.00 106.62 L466.12 107.10 L466.24 107.59 L466.36 108.07 L466.48 108.56 L466.60 109.04 L466.72 109.53 L466.84 110.01 L466.97 110.50 L467.09 110.98 L467.21 111.47 L467.34 111.95 L467.46 112.44 L467.58 112.92 L467.71 113.40 L467.83 113.89 L467.96 114.37 L468.08 114.85 L468.21 115.34 L468.34 115.82 L468.47 116.30 L468.59 116.79 L468.72 117.27 L468.85 117.75 L468.98 118.24 L469.11 118.72 L469.24 119.20 L469.37 119.68 L469.50 120.16 L469.63 120.65 L469.76 121.13 L469.89 121.61 L470.02 122.09 L470.15 122.57 L470.28 123.06 L470.42 123.54 L470.55 124.02 L470.68 124.50 L470.82 124.98 L470.95 125.46 L471.09 125.94 L471.22 126.43 L471.36 126.91 L471.49 127.39 L471.63 127.87 L471.76 128.35 L471.90 128.83 L472.04 129.31 L472.17 129.79 L472.31 130.27 L472.45 130.75 L472.59 131.23 L472.72 131.71 L472.86 132.19 L473.00 132.67 L473.14 133.15 L473.28 133.63 L473.42 134.11 L473.56 134.59 L473.70 135.07 L473.84 135.55 L473.98 136.03 L474.12 136.51 L474.26 136.99 L474.40 137.47 L474.54 137.95 L474.69 138.43 L474.83 138.91 L474.97 139.39 L475.11 139.86 L475.26 140.34 L475.40 140.82 L475.55 141.30 L475.69 141.78 L475.84 142.26 L475.98 142.73 L476.13 143.21 L476.28 143.69 L476.43 144.17 L476.58 144.64 L476.73 145.12 L476.88 145.60 L477.03 146.07 L477.19 146.55 L477.34 147.02 L477.50 147.50 L477.65 147.97 L477.81 148.45 L477.97 148.92 L478.13 149.40 L478.29 149.87 L478.45 150.34 L478.62 150.81 L478.79 151.28 L478.95 151.76 L479.12 152.23 L479.29 152.70 L479.46 153.16 L479.64 153.63 L479.81 154.10 L479.99 154.57 L480.17 155.04 L480.35 155.50 L480.53 155.97 L480.72 156.43 L480.91 156.90 L481.09 157.36 L481.28 157.82 L481.48 158.28 L481.67 158.75 L481.87 159.21 L482.07 159.67 L482.27 160.13 L482.47 160.58 L482.68 161.04 L482.89 161.50 L483.10 161.95 L483.31 162.41 L483.53 162.86 L483.75 163.31 L483.97 163.76 L484.19 164.21 L484.42 164.66 L484.64 165.11 L484.87 165.56 L485.11 166.00 L485.34 166.45 L485.58 166.89 L485.82 167.33 L486.06 167.77 L486.31 168.21 L486.55 168.65 L486.80 169.09 L487.06 169.52 L487.31 169.95 L487.57 170.38 L487.83 170.81 L488.09 171.24 L488.36 171.67 L488.62 172.09 L488.90 172.51 L489.17 172.93 L489.44 173.35 L489.72 173.77 L490.00 174.18 L490.29 174.60 L490.57 175.01 L490.86 175.42 L491.15 175.82 L491.44 176.23 L491.74 176.63 L492.04 177.03 L492.34 177.43 L492.65 177.82 L492.95 178.21 L493.26 178.60 L493.58 178.99 L493.89 179.38 L494.21 179.76 L494.53 180.14 L494.85 180.52 L495.18 180.90 L495.51 181.27 L495.84 181.64 L496.17 182.01 L496.51 182.37 L496.85 182.73 L497.19 183.09 L497.54 183.45 L497.89 183.80 L498.24 184.15 L498.59 184.50 L498.95 184.84 L499.31 185.18 L499.67 185.52 L500.04 185.85 L500.40 186.19 L500.78 186.51 L501.15 186.84 L501.53 187.16 L501.91 187.48 L502.29 187.79 L502.67 188.11 L503.06 188.41 L503.45 188.72 L503.85 189.02 L504.24 189.32 L504.64 189.61 L505.05 189.90 L505.45 190.19 L505.86 190.47 L506.27 190.75 L506.69 191.03 L507.11 191.30 L507.53 191.57 L507.95 191.83 L508.38 192.09 L508.80 192.35 L509.24 192.60 L509.67 192.86 L510.10 193.10 L510.54 193.35 L510.98 193.59 L511.42 193.83 L511.87 194.07 L512.31 194.30 L512.76 194.53 L513.21 194.76 L513.66 194.99 L514.11 195.21 L514.57 195.43 L515.03 195.65 L515.48 195.87 L515.94 196.08 L516.40 196.29 L516.86 196.50 L517.32 196.71 L517.79 196.92 L518.25 197.12 L518.72 197.33 L519.18 197.53 L519.65 197.73 L520.12 197.92 L520.58 198.12 L521.05 198.32 L521.52 198.51 L521.99 198.70 L522.46 198.89 L522.93 199.09 L523.40 199.27 L523.87 199.46 L524.34 199.65 L524.81 199.84 L525.28 200.02 L525.75 200.21 L526.21 200.39 L526.68 200.58 L527.15 200.76 L527.62 200.95 L528.08 201.13 L528.55 201.31 L529.02 201.50 L529.48 201.68 L529.94 201.86 L530.41 202.04 L530.87 202.22 L531.34 202.40 L531.80 202.58 L532.26 202.76 L532.73 202.94 L533.19 203.12 L533.65 203.30 L534.11 203.47 L534.58 203.65 L535.04 203.83 L535.50 204.00 L535.96 204.18 L536.43 204.35 L536.89 204.52 L537.35 204.70 L537.82 204.87 L538.28 205.04 L538.74 205.21 L539.21 205.38 L539.67 205.55 L540.14 205.72 L540.60 205.89 L541.07 206.05 L541.53 206.22 L542.00 206.38 L542.47 206.55 L542.93 206.71 L543.40 206.87 L543.87 207.03 L544.34 207.19 L544.81 207.35 L545.28 207.51 L545.76 207.67 L546.23 207.82 L546.70 207.98 L547.18 208.13 L547.66 208.28 L548.13 208.44 L548.61 208.59 L549.09 208.74 L549.57 208.89 L550.05 209.03 L550.54 209.18 L551.02 209.32 L551.51 209.46 L551.99 209.60 L552.48 209.74 L552.97 209.87 L553.46 210.00 L553.95 210.13 L554.44 210.25 L554.93 210.37 L555.42 210.48 L555.92 210.58 L556.41 210.68 L556.91 210.78 L557.41 210.86 L557.90 210.94 L558.40 211.01 L558.90 211.08 L559.40 211.14 L559.90 211.18 L560.40 211.22 L560.90 211.25 L561.41 211.27 L561.91 211.28 L562.41 211.28 L562.92 211.27 L563.42 211.25 L563.93 211.22 L564.43 211.17 L564.94 211.11 L565.44 211.04 L565.94 210.95 L566.44 210.84 L566.92 210.71 L567.39 210.55 L567.84 210.37 L568.27 210.14 L568.68 209.89 L569.05 209.59 L569.40 209.24 L569.71 208.86 L569.99 208.45 L570.23 208.01 L570.44 207.54 L570.61 207.06 L570.74 206.57 L570.83 206.07 L570.89 205.57 L570.91 205.06 L570.90 204.56 L570.86 204.05 L570.79 203.54 L570.70 203.04 L570.59 202.53 L570.47 202.03 L570.32 201.53 L570.17 201.04 L570.00 200.55 L569.83 200.06 L569.66 199.58 L569.48 199.11 L569.29 198.64 L569.11 198.17 L568.91 197.71 L568.72 197.25 L568.52 196.80 L568.32 196.34 L568.12 195.89 L567.92 195.44 L567.71 194.99 L567.50 194.54 L567.30 194.09 L567.09 193.64 L566.88 193.19 L566.67 192.74 L566.46 192.29 L566.25 191.83 L566.04 191.38 L565.83 190.92 L565.63 190.46 L565.42 190.00 L565.22 189.54 L565.02 189.08 L564.82 188.61 L564.63 188.15 L564.43 187.68 L564.24 187.22 L564.06 186.75 L563.87 186.29 L563.69 185.82 L563.52 185.36 L563.35 184.90 L563.18 184.43 L563.02 183.97 L562.86 183.50 L562.71 183.04 L562.56 182.57 L562.41 182.11 L562.26 181.64 L562.12 181.17 L561.97 180.70 L561.83 180.23 L561.68 179.76 L561.54 179.28 L561.39 178.80 L561.24 178.32 L561.09 177.83 L560.94 177.34 L560.78 176.84 L560.62 176.35 L560.47 175.84 L560.31 175.34 L560.17 174.83 L560.03 174.33 L559.90 173.82 L559.79 173.31 L559.69 172.80 L559.60 172.29 L559.54 171.78 L559.50 171.28 L559.48 170.77 L559.49 170.27 L559.53 169.77 L559.60 169.28 L559.69 168.79 L559.81 168.31 L559.95 167.83 L560.12 167.37 L560.31 166.91 L560.52 166.46 L560.75 166.03 L561.01 165.61 L561.28 165.20 L561.57 164.80 L561.88 164.43 L562.21 164.07 L562.55 163.72 L562.91 163.40 L563.28 163.10 L563.67 162.82 L564.07 162.56 L564.48 162.32 L564.90 162.11 L565.33 161.91 L565.77 161.73 L566.22 161.58 L566.68 161.43 L567.15 161.31 L567.63 161.20 L568.11 161.11 L568.60 161.03 L569.09 160.96 L569.59 160.90 L570.10 160.86 L570.61 160.82 L571.12 160.79 L571.64 160.77 L572.16 160.76 L572.68 160.75 L573.20 160.75 L573.72 160.75 L574.24 160.76 L574.76 160.77 L575.29 160.77 L575.80 160.78 L576.32 160.79 L576.84 160.80 L577.35 160.80 L577.86 160.81 L578.37 160.81 L578.87 160.81 L579.38 160.82 L579.88 160.82 L580.38 160.82 L580.88 160.82 L581.38 160.82 L581.87 160.81 L582.37 160.81 L582.87 160.81 L583.36 160.81 L583.86 160.80 L584.36 160.80 L584.85 160.80 L585.35 160.80 L585.84 160.79 L586.34 160.79 L586.84 160.79 L587.33 160.79 L587.83 160.79 L588.33 160.79 L588.84 160.79 L589.34 160.79 L589.84 160.79 L590.35 160.80 L590.86 160.80 L591.01 160.81 L603.35 160.80"/>
<path class="b" d="M320.46 245.95 L351.00 245.95 L351.50 245.95 L352.00 245.95 L352.50 245.95 L353.00 245.95 L353.50 245.95 L354.00 245.95 L354.50 245.95 L355.00 245.95 L355.50 245.95 L356.00 245.95 L356.50 245.95 L357.00 245.95 L357.50 245.95 L358.00 245.95 L358.50 245.95 L359.00 245.95 L359.50 245.95 L360.00 245.95 L360.50 245.95 L361.00 245.95 L361.50 245.95 L362.00 245.94 L362.50 245.94 L363.00 245.93 L363.50 245.92 L364.00 245.91 L364.49 245.89 L364.99 245.87 L365.49 245.84 L365.99 245.81 L366.48 245.78 L366.98 245.74 L367.48 245.69 L367.97 245.64 L368.47 245.59 L368.96 245.52 L369.45 245.45 L369.95 245.38 L370.44 245.29 L370.93 245.20 L371.42 245.10 L371.91 244.99 L372.40 244.87 L372.89 244.74 L373.38 244.60 L373.86 244.45 L374.34 244.28 L374.82 244.10 L375.28 243.91 L375.74 243.71 L376.19 243.49 L376.63 243.25 L377.06 242.99 L377.48 242.72 L377.89 242.44 L378.30 242.16 L378.70 241.87 L379.11 241.57 L379.51 241.28 L379.91 240.99 L380.32 240.70 L380.72 240.42 L381.13 240.13 L381.54 239.85 L381.95 239.57 L382.36 239.28 L382.77 239.00 L383.18 238.72 L383.59 238.44 L384.00 238.16 L384.41 237.87 L384.82 237.59 L385.23 237.30 L385.65 237.02 L386.06 236.73 L386.47 236.43 L386.88 236.14 L387.30 235.85 L387.72 235.56 L388.13 235.28 L388.56 235.00 L388.98 234.73 L389.41 234.47 L389.84 234.22 L390.28 233.98 L390.72 233.76 L391.17 233.55 L391.62 233.36 L392.08 233.19 L392.55 233.04 L393.02 232.91 L393.51 232.80 L393.99 232.71 L394.49 232.65 L394.98 232.60 L395.49 232.58 L395.99 232.57 L396.50 232.58 L397.00 232.61 L397.51 232.65 L398.01 232.71 L398.52 232.78 L399.02 232.87 L399.52 232.97 L400.01 233.08 L400.50 233.21 L400.98 233.35 L401.46 233.49 L401.93 233.65 L402.40 233.82 L402.87 233.99 L403.34 234.17 L403.80 234.36 L404.26 234.56 L404.71 234.76 L405.17 234.96 L405.62 235.17 L406.07 235.39 L406.52 235.60 L406.97 235.82 L407.42 236.04 L407.87 236.25 L408.32 236.47 L408.77 236.69 L409.22 236.91 L409.67 237.12 L410.12 237.33 L410.57 237.53 L411.03 237.73 L411.49 237.93 L411.95 238.12 L412.41 238.30 L412.88 238.48 L413.35 238.64 L413.82 238.80 L414.29 238.95 L414.77 239.10 L415.25 239.23 L415.74 239.37 L416.22 239.49 L416.71 239.62 L417.19 239.74 L417.68 239.86 L418.17 239.98 L418.66 240.10 L419.15 240.22 L419.64 240.33 L420.13 240.46 L420.62 240.58 L421.11 240.71 L421.59 240.84 L422.07 240.98 L422.56 241.13 L423.04 241.28 L423.51 241.44 L423.97 241.62 L424.40 241.84 L424.80 242.11 L425.15 242.43 L425.47 242.80 L425.78 243.20 L426.08 243.62 L426.41 244.03 L426.76 244.43 L427.14 244.80 L427.54 245.11 L427.97 245.35 L428.41 245.50 L428.87 245.55 L429.35 245.48 L429.82 245.33 L430.29 245.12 L430.73 244.87 L431.16 244.59 L431.58 244.28 L431.98 243.96 L432.37 243.63 L432.76 243.28 L433.13 242.94 L433.50 242.60 L433.87 242.25 L434.23 241.90 L434.58 241.55 L434.93 241.20 L435.28 240.85 L435.62 240.50 L435.96 240.14 L436.30 239.79 L436.63 239.43 L436.96 239.07 L437.29 238.71 L437.62 238.35 L437.95 237.99 L438.28 237.62 L438.61 237.26 L438.94 236.89 L439.27 236.52 L439.60 236.16 L439.93 235.79 L440.26 235.41 L440.60 235.04 L440.94 234.67 L441.28 234.29 L441.63 233.92 L441.98 233.54 L442.33 233.17 L442.69 232.79 L443.05 232.42 L443.42 232.06 L443.79 231.70 L444.16 231.34 L444.54 230.99 L444.92 230.64 L445.31 230.31 L445.70 229.98 L446.09 229.66 L446.49 229.35 L446.90 229.05 L447.31 228.77 L447.73 228.49 L448.15 228.23 L448.58 227.99 L449.01 227.76 L449.45 227.54 L449.89 227.34 L450.34 227.16 L450.80 227.00 L451.26 226.85 L451.73 226.73 L452.21 226.62 L452.69 226.54 L453.17 226.47 L453.66 226.41 L454.15 226.38 L454.65 226.36 L455.14 226.35 L455.65 226.37 L456.15 226.39 L456.65 226.43 L457.15 226.48 L457.66 226.54 L458.16 226.62 L458.67 226.71 L459.17 226.81 L459.67 226.91 L460.17 227.03 L460.66 227.16 L461.16 227.29 L461.64 227.43 L462.13 227.58 L462.61 227.74 L463.09 227.90 L463.56 228.07 L464.04 228.24 L464.50 228.42 L464.97 228.60 L465.44 228.79 L465.90 228.98 L466.36 229.17 L466.82 229.37 L467.28 229.56 L467.73 229.76 L468.19 229.96 L468.65 230.16 L469.10 230.35 L469.56 230.55 L470.01 230.75 L470.47 230.94 L470.93 231.14 L471.38 231.33 L471.84 231.51 L472.30 231.70 L472.77 231.88 L473.23 232.06 L473.69 232.23 L474.16 232.41 L474.62 232.58 L475.09 232.74 L475.56 232.91 L476.03 233.08 L476.50 233.24 L476.97 233.40 L477.44 233.56 L477.91 233.72 L478.38 233.88 L478.86 234.04 L479.33 234.20 L479.81 234.36 L480.29 234.52 L480.76 234.68 L481.24 234.84 L481.72 235.00 L482.20 235.16 L482.68 235.32 L483.16 235.48 L483.64 235.64 L484.12 235.79 L484.60 235.95 L485.08 236.11 L485.56 236.26 L486.05 236.41 L486.53 236.56 L487.02 236.70 L487.50 236.84 L487.99 236.97 L488.47 237.10 L488.96 237.23 L489.45 237.35 L489.93 237.46 L490.42 237.57 L490.91 237.67 L491.40 237.76 L491.89 237.84 L492.38 237.92 L492.87 237.99 L493.36 238.05 L493.86 238.11 L494.35 238.16 L494.84 238.20 L495.34 238.24 L495.83 238.27 L496.33 238.29 L496.82 238.31 L497.32 238.33 L497.81 238.33 L498.31 238.34 L498.80 238.34 L499.30 238.33 L499.80 238.32 L500.29 238.31 L500.79 238.29 L501.29 238.27 L501.79 238.24 L502.29 238.21 L502.78 238.18 L503.28 238.14 L503.78 238.10 L504.28 238.06 L504.78 238.02 L505.28 237.97 L505.78 237.92 L506.28 237.87 L506.78 237.82 L507.28 237.77 L507.78 237.71 L508.27 237.65 L508.77 237.60 L509.27 237.54 L509.77 237.48 L510.27 237.42 L510.77 237.36 L511.27 237.31 L511.77 237.25 L512.27 237.19 L512.77 237.13 L513.26 237.07 L513.76 237.02 L514.26 236.96 L514.76 236.90 L515.26 236.85 L515.76 236.79 L516.25 236.73 L516.75 236.68 L517.25 236.62 L517.75 236.57 L518.24 236.51 L518.74 236.46 L519.24 236.40 L519.74 236.35 L520.23 236.30 L520.73 236.24 L521.23 236.19 L521.72 236.14 L522.22 236.08 L522.72 236.03 L523.22 235.98 L523.71 235.93 L524.21 235.88 L524.71 235.83 L525.20 235.78 L525.70 235.73 L526.20 235.68 L526.69 235.63 L527.19 235.58 L527.69 235.53 L528.18 235.48 L528.68 235.43 L529.18 235.38 L529.67 235.34 L530.17 235.29 L530.67 235.24 L531.16 235.20 L531.66 235.15 L532.16 235.10 L532.66 235.06 L533.15 235.01 L533.65 234.97 L534.15 234.93 L534.64 234.88 L535.14 234.84 L535.64 234.79 L536.14 234.75 L536.63 234.71 L537.13 234.67 L537.63 234.62 L538.12 234.58 L538.62 234.54 L539.12 234.50 L539.62 234.46 L540.12 234.42 L540.61 234.38 L541.11 234.34 L541.61 234.30 L542.11 234.26 L542.61 234.23 L543.10 234.19 L543.60 234.15 L544.10 234.11 L544.60 234.08 L545.10 234.04 L545.60 234.01 L546.10 233.97 L546.60 233.93 L547.10 233.90 L547.60 233.87 L548.10 233.83 L548.60 233.80 L549.10 233.77 L549.60 233.73 L550.10 233.70 L550.60 233.67 L551.10 233.64 L551.60 233.61 L552.10 233.58 L552.60 233.55 L553.10 233.52 L553.60 233.49 L554.11 233.46 L554.61 233.43 L555.11 233.41 L555.61 233.38 L556.11 233.36 L556.61 233.33 L557.11 233.31 L557.61 233.30 L558.11 233.28 L558.61 233.27 L559.11 233.25 L559.61 233.24 L560.11 233.24 L560.61 233.23 L561.11 233.23 L561.61 233.23 L562.10 233.24 L562.60 233.25 L563.09 233.26 L563.59 233.28 L564.08 233.30 L564.57 233.32 L565.06 233.35 L565.56 233.38 L566.05 233.41 L566.53 233.46 L567.03 233.51 L567.52 233.57 L568.03 233.64 L568.55 233.74 L569.09 233.86 L569.64 234.00 L570.19 234.18 L570.64 234.40 L570.94 234.67 L571.02 235.00 L570.86 235.39 L570.55 235.79 L570.14 236.20 L569.71 236.57 L569.29 236.91 L568.86 237.22 L568.43 237.51 L568.01 237.77 L567.58 238.03 L567.17 238.28 L566.76 238.52 L566.35 238.77 L565.96 239.03 L565.57 239.29 L565.18 239.56 L564.79 239.84 L564.40 240.12 L563.99 240.41 L563.58 240.70 L563.15 240.98 L562.71 241.27 L562.24 241.56 L561.75 241.84 L561.26 242.13 L560.82 242.44 L560.44 242.78 L560.16 243.17 L560.02 243.61 L560.02 244.07 L560.16 244.50 L560.43 244.83 L560.81 245.07 L561.26 245.24 L561.77 245.36 L562.30 245.45 L562.83 245.52 L563.36 245.59 L563.89 245.65 L564.41 245.70 L564.92 245.74 L565.43 245.78 L565.94 245.82 L566.45 245.85 L566.95 245.87 L567.46 245.89 L567.96 245.91 L568.45 245.92 L568.95 245.93 L569.44 245.94 L569.94 245.94 L570.43 245.95 L570.93 245.95 L571.42 245.95 L571.91 245.95 L572.41 245.95 L572.90 245.95 L573.40 245.95 L573.90 245.95 L574.39 245.95 L574.89 245.95 L575.39 245.95 L575.89 245.95 L576.39 245.95 L576.89 245.95 L577.39 245.95 L577.89 245.95 L578.39 245.95 L578.89 245.95 L579.39 245.95 L579.89 245.95 L580.39 245.95 L580.89 245.95 L581.39 245.95 L581.89 245.95 L582.39 245.95 L582.89 245.95 L583.39 245.95 L583.90 245.95 L584.40 245.95 L584.89 245.95 L585.39 245.95 L585.89 245.95 L586.39 245.95 L586.89 245.95 L587.00 245.95 L603.35 245.95"/>
<path class="r" d="M12.46 160.80 L13.55 160.80 L14.63 160.80 L15.72 160.80 L16.81 160.79 L17.89 160.79 L18.98 160.79 L20.07 160.78 L21.15 160.78 L22.24 160.77 L23.32 160.76 L24.41 160.74 L25.50 160.72 L26.58 160.69 L27.67 160.66 L28.76 160.62 L29.84 160.56 L30.93 160.49 L32.02 160.39 L33.10 160.28 L34.19 160.13 L35.28 159.95 L36.36 159.73 L37.45 159.46 L38.54 159.12 L39.62 158.72 L40.71 158.24 L41.80 157.66 L42.88 156.98 L43.97 156.17 L45.05 155.23 L46.14 154.14 L47.23 152.89 L48.31 151.45 L49.40 149.82 L50.49 147.99 L51.57 145.94 L52.66 143.66 L53.75 141.16 L54.83 138.43 L55.92 135.47 L57.01 132.29 L58.09 128.90 L59.18 125.34 L60.27 121.61 L61.35 117.74 L62.44 113.79 L63.53 109.78 L64.61 105.77 L65.70 101.79 L66.78 97.92 L67.87 94.19 L68.96 90.67 L70.04 87.41 L71.13 84.46 L72.22 81.87 L73.30 79.69 L74.39 77.95 L75.48 76.69 L76.56 75.92 L77.65 75.66 L78.74 75.92 L79.82 76.69 L80.91 77.95 L82.00 79.69 L83.08 81.87 L84.17 84.46 L85.26 87.41 L86.34 90.67 L87.43 94.19 L88.51 97.92 L89.60 101.79 L90.69 105.77 L91.77 109.78 L92.86 113.79 L93.95 117.74 L95.03 121.61 L96.12 125.34 L97.21 128.90 L98.29 132.29 L99.38 135.47 L100.47 138.43 L101.55 141.16 L102.64 143.66 L103.73 145.94 L104.81 147.99 L105.90 149.82 L106.99 151.45 L108.07 152.89 L109.16 154.14 L110.24 155.23 L111.33 156.17 L112.42 156.98 L113.50 157.66 L114.59 158.24 L115.68 158.72 L116.76 159.12 L117.85 159.46 L118.94 159.73 L120.02 159.95 L121.11 160.13 L122.20 160.28 L123.28 160.39 L124.37 160.49 L125.46 160.56 L126.54 160.62 L127.63 160.66 L128.72 160.69 L129.80 160.72 L130.89 160.74 L131.97 160.76 L133.06 160.77 L134.15 160.78 L135.23 160.78 L136.32 160.79 L137.41 160.79 L138.49 160.79 L139.58 160.80 L140.67 160.80 L141.75 160.80 L142.84 160.80 L143.93 160.80 L145.01 160.80 L146.10 160.80 L147.19 160.80 L148.27 160.80 L149.36 160.80 L150.45 160.80 L151.53 160.80 L152.62 160.80 L153.70 160.80 L154.79 160.80 L155.88 160.80 L156.96 160.80 L158.05 160.80 L159.14 160.80 L160.22 160.80 L161.31 160.80 L162.40 160.80 L163.48 160.80 L164.57 160.80 L165.66 160.80 L166.74 160.80 L167.83 160.80 L168.92 160.80 L170.00 160.80 L171.09 160.80 L172.18 160.80 L173.26 160.80 L174.35 160.80 L175.43 160.80 L176.52 160.80 L177.61 160.80 L178.69 160.80 L179.78 160.80 L180.87 160.80 L181.95 160.80 L183.04 160.80 L184.13 160.80 L185.21 160.80 L186.30 160.80 L187.39 160.80 L188.47 160.80 L189.56 160.80 L190.65 160.80 L191.73 160.80 L192.82 160.80 L193.91 160.80 L194.99 160.80 L196.08 160.80 L197.16 160.80 L198.25 160.80 L199.34 160.80 L200.42 160.80 L201.51 160.80 L202.60 160.80 L203.68 160.80 L204.77 160.80 L205.86 160.80 L206.94 160.80 L208.03 160.80 L209.12 160.80 L210.20 160.80 L211.29 160.80 L212.38 160.80 L213.46 160.80 L214.55 160.80 L215.64 160.80 L216.72 160.80 L217.81 160.80 L218.89 160.80 L219.98 160.80 L221.07 160.80 L222.15 160.80 L223.24 160.80 L224.33 160.80 L225.41 160.80 L226.50 160.80 L227.59 160.80 L228.67 160.80 L229.76 160.80 L230.85 160.80 L231.93 160.80 L233.02 160.80 L234.11 160.80 L235.19 160.80 L236.28 160.80 L237.37 160.80 L238.45 160.80 L239.54 160.80 L240.62 160.80 L241.71 160.80 L242.80 160.80 L243.88 160.80 L244.97 160.80 L246.06 160.80 L247.14 160.80 L248.23 160.80 L249.32 160.80 L250.40 160.80 L251.49 160.80 L252.58 160.80 L253.66 160.80 L254.75 160.80 L255.84 160.80 L256.92 160.80 L258.01 160.80 L259.10 160.80 L260.18 160.80 L261.27 160.80 L262.35 160.80 L263.44 160.80 L264.53 160.80 L265.61 160.80 L266.70 160.80 L267.79 160.80 L268.87 160.80 L269.96 160.80 L271.05 160.80 L272.13 160.80 L273.22 160.80 L274.31 160.80 L275.39 160.80 L276.48 160.80 L277.57 160.80 L278.65 160.80 L279.74 160.80 L280.83 160.80 L281.91 160.80 L283.00 160.80 L284.08 160.80 L285.17 160.80 L286.26 160.80 L287.34 160.80 L288.43 160.80 L289.52 160.80 L290.60 160.80 L291.69 160.80 L292.78 160.80 L293.86 160.80 L294.95 160.80"/>
<path class="r" d="M12.46 245.95 L13.55 245.95 L14.63 245.95 L15.72 245.95 L16.81 245.95 L17.89 245.95 L18.98 245.95 L20.07 245.95 L21.15 245.95 L22.24 245.95 L23.32 245.95 L24.41 245.95 L25.50 245.95 L26.58 245.95 L27.67 245.95 L28.76 245.95 L29.84 245.95 L30.93 245.95 L32.02 245.95 L33.10 245.95 L34.19 245.95 L35.28 245.95 L36.36 245.95 L37.45 245.95 L38.54 245.95 L39.62 245.95 L40.71 245.95 L41.80 245.95 L42.88 245.95 L43.97 245.95 L45.05 245.95 L46.14 245.95 L47.23 245.95 L48.31 245.95 L49.40 245.95 L50.49 245.95 L51.57 245.95 L52.66 245.95 L53.75 245.95 L54.83 245.95 L55.92 245.95 L57.01 245.95 L58.09 245.95 L59.18 245.95 L60.27 245.95 L61.35 245.95 L62.44 245.95 L63.53 245.95 L64.61 245.95 L65.70 245.95 L66.78 245.95 L67.87 245.95 L68.96 245.95 L70.04 245.95 L71.13 245.95 L72.22 245.94 L73.30 245.94 L74.39 245.94 L75.48 245.93 L76.56 245.93 L77.65 245.92 L78.74 245.91 L79.82 245.90 L80.91 245.88 L82.00 245.86 L83.08 245.83 L84.17 245.79 L85.26 245.74 L86.34 245.68 L87.43 245.60 L88.51 245.50 L89.60 245.38 L90.69 245.24 L91.77 245.05 L92.86 244.83 L93.95 244.56 L95.03 244.24 L96.12 243.86 L97.21 243.40 L98.29 242.86 L99.38 242.24 L100.47 241.51 L101.55 240.67 L102.64 239.72 L103.73 238.63 L104.81 237.41 L105.90 236.04 L106.99 234.53 L108.07 232.86 L109.16 231.03 L110.24 229.06 L111.33 226.94 L112.42 224.69 L113.50 222.31 L114.59 219.82 L115.68 217.25 L116.76 214.61 L117.85 211.94 L118.94 209.26 L120.02 206.61 L121.11 204.03 L122.20 201.54 L123.28 199.20 L124.37 197.02 L125.46 195.06 L126.54 193.33 L127.63 191.88 L128.72 190.72 L129.80 189.87 L130.89 189.36 L131.97 189.19 L133.06 189.36 L134.15 189.87 L135.23 190.72 L136.32 191.88 L137.41 193.33 L138.49 195.06 L139.58 197.02 L140.67 199.20 L141.75 201.54 L142.84 204.03 L143.93 206.61 L145.01 209.26 L146.10 211.94 L147.19 214.61 L148.27 217.25 L149.36 219.82 L150.45 222.31 L151.53 224.69 L152.62 226.94 L153.70 229.06 L154.79 231.03 L155.88 232.86 L156.96 234.53 L158.05 236.04 L159.14 237.41 L160.22 238.63 L161.31 239.72 L162.40 240.67 L163.48 241.51 L164.57 242.24 L165.66 242.86 L166.74 243.40 L167.83 243.86 L168.92 244.24 L170.00 244.56 L171.09 244.83 L172.18 245.05 L173.26 245.24 L174.35 245.38 L175.43 245.50 L176.52 245.60 L177.61 245.68 L178.69 245.74 L179.78 245.79 L180.87 245.83 L181.95 245.86 L183.04 245.88 L184.13 245.90 L185.21 245.91 L186.30 245.92 L187.39 245.93 L188.47 245.93 L189.56 245.94 L190.65 245.94 L191.73 245.94 L192.82 245.95 L193.91 245.95 L194.99 245.95 L196.08 245.95 L197.16 245.95 L198.25 245.95 L199.34 245.95 L200.42 245.95 L201.51 245.95 L202.60 245.95 L203.68 245.95 L204.77 245.95 L205.86 245.95 L206.94 245.95 L208.03 245.95 L209.12 245.95 L210.20 245.95 L211.29 245.95 L212.38 245.95 L213.46 245.95 L214.55 245.95 L215.64 245.95 L216.72 245.95 L217.81 245.95 L218.89 245.95 L219.98 245.95 L221.07 245.95 L222.15 245.95 L223.24 245.95 L224.33 245.95 L225.41 245.95 L226.50 245.95 L227.59 245.95 L228.67 245.95 L229.76 245.95 L230.85 245.95 L231.93 245.95 L233.02 245.95 L234.11 245.95 L235.19 245.95 L236.28 245.95 L237.37 245.95 L238.45 245.95 L239.54 245.95 L240.62 245.95 L241.71 245.95 L242.80 245.95 L243.88 245.95 L244.97 245.95 L246.06 245.95 L247.14 245.95 L248.23 245.95 L249.32 245.95 L250.40 245.95 L251.49 245.95 L252.58 245.95 L253.66 245.95 L254.75 245.95 L255.84 245.95 L256.92 245.95 L258.01 245.95 L259.10 245.95 L260.18 245.95 L261.27 245.95 L262.35 245.95 L263.44 245.95 L264.53 245.95 L265.61 245.95 L266.70 245.95 L267.79 245.95 L268.87 245.95 L269.96 245.95 L271.05 245.95 L272.13 245.95 L273.22 245.95 L274.31 245.95 L275.39 245.95 L276.48 245.95 L277.57 245.95 L278.65 245.95 L279.74 245.95 L280.83 245.95 L281.91 245.95 L283.00 245.95 L284.08 245.95 L285.17 245.95 L286.26 245.95 L287.34 245.95 L288.43 245.95 L289.52 245.95 L290.60 245.95 L291.69 245.95 L292.78 245.95 L293.86 245.95 L294.95 245.95"/>
<use href="#r10_nine" class="g" transform="translate(62.38 23.12) scale(0.01460)"/>
<use href="#r10_two" class="g" transform="translate(62.56 222.76) scale(0.01460)"/>
<use href="#sy10_minus" class="g" transform="translate(10.91 290.15) scale(0.01460)"/>
<use href="#r10_five" class="g" transform="translate(22.26 290.15) scale(0.01460)"/>
<use href="#r10_two" class="g" transform="translate(286.81 290.03) scale(0.01460)"/>
<use href="#r10_zero" class="g" transform="translate(294.11 290.03) scale(0.01460)"/>
<use href="#mi10_x" class="g" transform="translate(282.93 269.07) scale(0.01460)"/>
<use href="#mi10_u" class="g" transform="translate(272.94 151.00) scale(0.01460)"/>
<use href="#r7_two" class="g" transform="translate(281.24 146.34) scale(0.01020)"/>
<use href="#mi10_u" class="g" transform="translate(272.94 233.00) scale(0.01460)"/>
<use href="#r7_one" class="g" transform="translate(281.43 227.54) scale(0.01020)"/>
<path class="r" d="M320.86 160.80 L321.95 160.80 L323.03 160.80 L324.12 160.80 L325.21 160.79 L326.29 160.79 L327.38 160.79 L328.47 160.78 L329.55 160.78 L330.64 160.77 L331.72 160.76 L332.81 160.74 L333.90 160.72 L334.98 160.69 L336.07 160.66 L337.16 160.62 L338.24 160.56 L339.33 160.49 L340.42 160.39 L341.50 160.28 L342.59 160.13 L343.68 159.95 L344.76 159.73 L345.85 159.46 L346.94 159.12 L348.02 158.72 L349.11 158.24 L350.20 157.66 L351.28 156.98 L352.37 156.17 L353.45 155.23 L354.54 154.14 L355.63 152.89 L356.71 151.45 L357.80 149.82 L358.89 147.99 L359.97 145.94 L361.06 143.66 L362.15 141.16 L363.23 138.43 L364.32 135.47 L365.41 132.29 L366.49 128.90 L367.58 125.34 L368.67 121.61 L369.75 117.74 L370.84 113.79 L371.93 109.78 L373.01 105.77 L374.10 101.79 L375.18 97.92 L376.27 94.19 L377.36 90.67 L378.44 87.41 L379.53 84.46 L380.62 81.87 L381.70 79.69 L382.79 77.95 L383.88 76.69 L384.96 75.92 L386.05 75.66 L387.14 75.92 L388.22 76.69 L389.31 77.95 L390.40 79.69 L391.48 81.87 L392.57 84.46 L393.66 87.41 L394.74 90.67 L395.83 94.19 L396.91 97.92 L398.00 101.79 L399.09 105.77 L400.17 109.78 L401.26 113.79 L402.35 117.74 L403.43 121.61 L404.52 125.34 L405.61 128.90 L406.69 132.29 L407.78 135.47 L408.87 138.43 L409.95 141.16 L411.04 143.66 L412.13 145.94 L413.21 147.99 L414.30 149.82 L415.39 151.45 L416.47 152.89 L417.56 154.14 L418.64 155.23 L419.73 156.17 L420.82 156.98 L421.90 157.66 L422.99 158.24 L424.08 158.72 L425.16 159.12 L426.25 159.46 L427.34 159.73 L428.42 159.95 L429.51 160.13 L430.60 160.28 L431.68 160.39 L432.77 160.49 L433.86 160.56 L434.94 160.62 L436.03 160.66 L437.12 160.69 L438.20 160.72 L439.29 160.74 L440.37 160.76 L441.46 160.77 L442.55 160.78 L443.63 160.78 L444.72 160.79 L445.81 160.79 L446.89 160.79 L447.98 160.80 L449.07 160.80 L450.15 160.80 L451.24 160.80 L452.33 160.80 L453.41 160.80 L454.50 160.80 L455.59 160.80 L456.67 160.80 L457.76 160.80 L458.85 160.80 L459.93 160.80 L461.02 160.80 L462.10 160.80 L463.19 160.80 L464.28 160.80 L465.36 160.80 L466.45 160.80 L467.54 160.80 L468.62 160.80 L469.71 160.80 L470.80 160.80 L471.88 160.80 L472.97 160.80 L474.06 160.80 L475.14 160.80 L476.23 160.80 L477.32 160.80 L478.40 160.80 L479.49 160.80 L480.58 160.80 L481.66 160.80 L482.75 160.80 L483.83 160.80 L484.92 160.80 L486.01 160.80 L487.09 160.80 L488.18 160.80 L489.27 160.80 L490.35 160.80 L491.44 160.80 L492.53 160.80 L493.61 160.80 L494.70 160.80 L495.79 160.80 L496.87 160.80 L497.96 160.80 L499.05 160.80 L500.13 160.80 L501.22 160.80 L502.31 160.80 L503.39 160.80 L504.48 160.80 L505.56 160.80 L506.65 160.80 L507.74 160.80 L508.82 160.80 L509.91 160.80 L511.00 160.80 L512.08 160.80 L513.17 160.80 L514.26 160.80 L515.34 160.80 L516.43 160.80 L517.52 160.80 L518.60 160.80 L519.69 160.80 L520.78 160.80 L521.86 160.80 L522.95 160.80 L524.04 160.80 L525.12 160.80 L526.21 160.80 L527.29 160.80 L528.38 160.80 L529.47 160.80 L530.55 160.80 L531.64 160.80 L532.73 160.80 L533.81 160.80 L534.90 160.80 L535.99 160.80 L537.07 160.80 L538.16 160.80 L539.25 160.80 L540.33 160.80 L541.42 160.80 L542.51 160.80 L543.59 160.80 L544.68 160.80 L545.77 160.80 L546.85 160.80 L547.94 160.80 L549.02 160.80 L550.11 160.80 L551.20 160.80 L552.28 160.80 L553.37 160.80 L554.46 160.80 L555.54 160.80 L556.63 160.80 L557.72 160.80 L558.80 160.80 L559.89 160.80 L560.98 160.80 L562.06 160.80 L563.15 160.80 L564.24 160.80 L565.32 160.80 L566.41 160.80 L567.50 160.80 L568.58 160.80 L569.67 160.80 L570.75 160.80 L571.84 160.80 L572.93 160.80 L574.01 160.80 L575.10 160.80 L576.19 160.80 L577.27 160.80 L578.36 160.80 L579.45 160.80 L580.53 160.80 L581.62 160.80 L582.71 160.80 L583.79 160.80 L584.88 160.80 L585.97 160.80 L587.05 160.80 L588.14 160.80 L589.23 160.80 L590.31 160.80 L591.40 160.80 L592.48 160.80 L593.57 160.80 L594.66 160.80 L595.74 160.80 L596.83 160.80 L597.92 160.80 L599.00 160.80 L600.09 160.80 L601.18 160.80 L602.26 160.80 L603.35 160.80"/>
<path class="r" d="M320.86 245.95 L321.95 245.95 L323.03 245.95 L324.12 245.95 L325.21 245.95 L326.29 245.95 L327.38 245.95 L328.47 245.95 L329.55 245.95 L330.64 245.95 L331.72 245.95 L332.81 245.95 L333.90 245.95 L334.98 245.95 L336.07 245.95 L337.16 245.95 L338.24 245.95 L339.33 245.95 L340.42 245.95 L341.50 245.95 L342.59 245.95 L343.68 245.95 L344.76 245.95 L345.85 245.95 L346.94 245.95 L348.02 245.95 L349.11 245.95 L350.20 245.95 L351.28 245.95 L352.37 245.95 L353.45 245.95 L354.54 245.95 L355.63 245.95 L356.71 245.95 L357.80 245.95 L358.89 245.95 L359.97 245.95 L361.06 245.95 L362.15 245.95 L363.23 245.95 L364.32 245.95 L365.41 245.95 L366.49 245.95 L367.58 245.95 L368.67 245.95 L369.75 245.95 L370.84 245.95 L371.93 245.95 L373.01 245.95 L374.10 245.95 L375.18 245.95 L376.27 245.95 L377.36 245.95 L378.44 245.95 L379.53 245.95 L380.62 245.94 L381.70 245.94 L382.79 245.94 L383.88 245.93 L384.96 245.93 L386.05 245.92 L387.14 245.91 L388.22 245.90 L389.31 245.88 L390.40 245.86 L391.48 245.83 L392.57 245.79 L393.66 245.74 L394.74 245.68 L395.83 245.60 L396.91 245.50 L398.00 245.38 L399.09 245.24 L400.17 245.05 L401.26 244.83 L402.35 244.56 L403.43 244.24 L404.52 243.86 L405.61 243.40 L406.69 242.86 L407.78 242.24 L408.87 241.51 L409.95 240.67 L411.04 239.72 L412.13 238.63 L413.21 237.41 L414.30 236.04 L415.39 234.53 L416.47 232.86 L417.56 231.03 L418.64 229.06 L419.73 226.94 L420.82 224.69 L421.90 222.31 L422.99 219.82 L424.08 217.25 L425.16 214.61 L426.25 211.94 L427.34 209.26 L428.42 206.61 L429.51 204.03 L430.60 201.54 L431.68 199.20 L432.77 197.02 L433.86 195.06 L434.94 193.33 L436.03 191.88 L437.12 190.72 L438.20 189.87 L439.29 189.36 L440.37 189.19 L441.46 189.36 L442.55 189.87 L443.63 190.72 L444.72 191.88 L445.81 193.33 L446.89 195.06 L447.98 197.02 L449.07 199.20 L450.15 201.54 L451.24 204.03 L452.33 206.61 L453.41 209.26 L454.50 211.94 L455.59 214.61 L456.67 217.25 L457.76 219.82 L458.85 222.31 L459.93 224.69 L461.02 226.94 L462.10 229.06 L463.19 231.03 L464.28 232.86 L465.36 234.53 L466.45 236.04 L467.54 237.41 L468.62 238.63 L469.71 239.72 L470.80 240.67 L471.88 241.51 L472.97 242.24 L474.06 242.86 L475.14 243.40 L476.23 243.86 L477.32 244.24 L478.40 244.56 L479.49 244.83 L480.58 245.05 L481.66 245.24 L482.75 245.38 L483.83 245.50 L484.92 245.60 L486.01 245.68 L487.09 245.74 L488.18 245.79 L489.27 245.83 L490.35 245.86 L491.44 245.88 L492.53 245.90 L493.61 245.91 L494.70 245.92 L495.79 245.93 L496.87 245.93 L497.96 245.94 L499.05 245.94 L500.13 245.94 L501.22 245.95 L502.31 245.95 L503.39 245.95 L504.48 245.95 L505.56 245.95 L506.65 245.95 L507.74 245.95 L508.82 245.95 L509.91 245.95 L511.00 245.95 L512.08 245.95 L513.17 245.95 L514.26 245.95 L515.34 245.95 L516.43 245.95 L517.52 245.95 L518.60 245.95 L519.69 245.95 L520.78 245.95 L521.86 245.95 L522.95 245.95 L524.04 245.95 L525.12 245.95 L526.21 245.95 L527.29 245.95 L528.38 245.95 L529.47 245.95 L530.55 245.95 L531.64 245.95 L532.73 245.95 L533.81 245.95 L534.90 245.95 L535.99 245.95 L537.07 245.95 L538.16 245.95 L539.25 245.95 L540.33 245.95 L541.42 245.95 L542.51 245.95 L543.59 245.95 L544.68 245.95 L545.77 245.95 L546.85 245.95 L547.94 245.95 L549.02 245.95 L550.11 245.95 L551.20 245.95 L552.28 245.95 L553.37 245.95 L554.46 245.95 L555.54 245.95 L556.63 245.95 L557.72 245.95 L558.80 245.95 L559.89 245.95 L560.98 245.95 L562.06 245.95 L563.15 245.95 L564.24 245.95 L565.32 245.95 L566.41 245.95 L567.50 245.95 L568.58 245.95 L569.67 245.95 L570.75 245.95 L571.84 245.95 L572.93 245.95 L574.01 245.95 L575.10 245.95 L576.19 245.95 L577.27 245.95 L578.36 245.95 L579.45 245.95 L580.53 245.95 L581.62 245.95 L582.71 245.95 L583.79 245.95 L584.88 245.95 L585.97 245.95 L587.05 245.95 L588.14 245.95 L589.23 245.95 L590.31 245.95 L591.40 245.95 L592.48 245.95 L593.57 245.95 L594.66 245.95 L595.74 245.95 L596.83 245.95 L597.92 245.95 L599.00 245.95 L600.09 245.95 L601.18 245.95 L602.26 245.95 L603.35 245.95"/>
<use href="#r10_nine" class="g" transform="translate(371.18 23.12) scale(0.01460)"/>
<use href="#r10_two" class="g" transform="translate(371.16 222.76) scale(0.01460)"/>
<use href="#sy10_minus" class="g" transform="translate(319.51 290.15) scale(0.01460)"/>
<use href="#r10_five" class="g" transform="translate(330.86 290.15) scale(0.01460)"/>
<use href="#r10_two" class="g" transform="translate(595.41 290.03) scale(0.01460)"/>
<use href="#r10_zero" class="g" transform="translate(602.71 290.03) scale(0.01460)"/>
<use href="#mi10_x" class="g" transform="translate(592.03 269.07) scale(0.01460)"/>
<use href="#mi10_u" class="g" transform="translate(582.04 151.00) scale(0.01460)"/>
<use href="#r7_two" class="g" transform="translate(590.34 146.34) scale(0.01020)"/>
<use href="#mi10_u" class="g" transform="translate(582.04 233.00) scale(0.01460)"/>
<use href="#r7_one" class="g" transform="translate(590.53 227.54) scale(0.01020)"/>
</svg></body></html>
